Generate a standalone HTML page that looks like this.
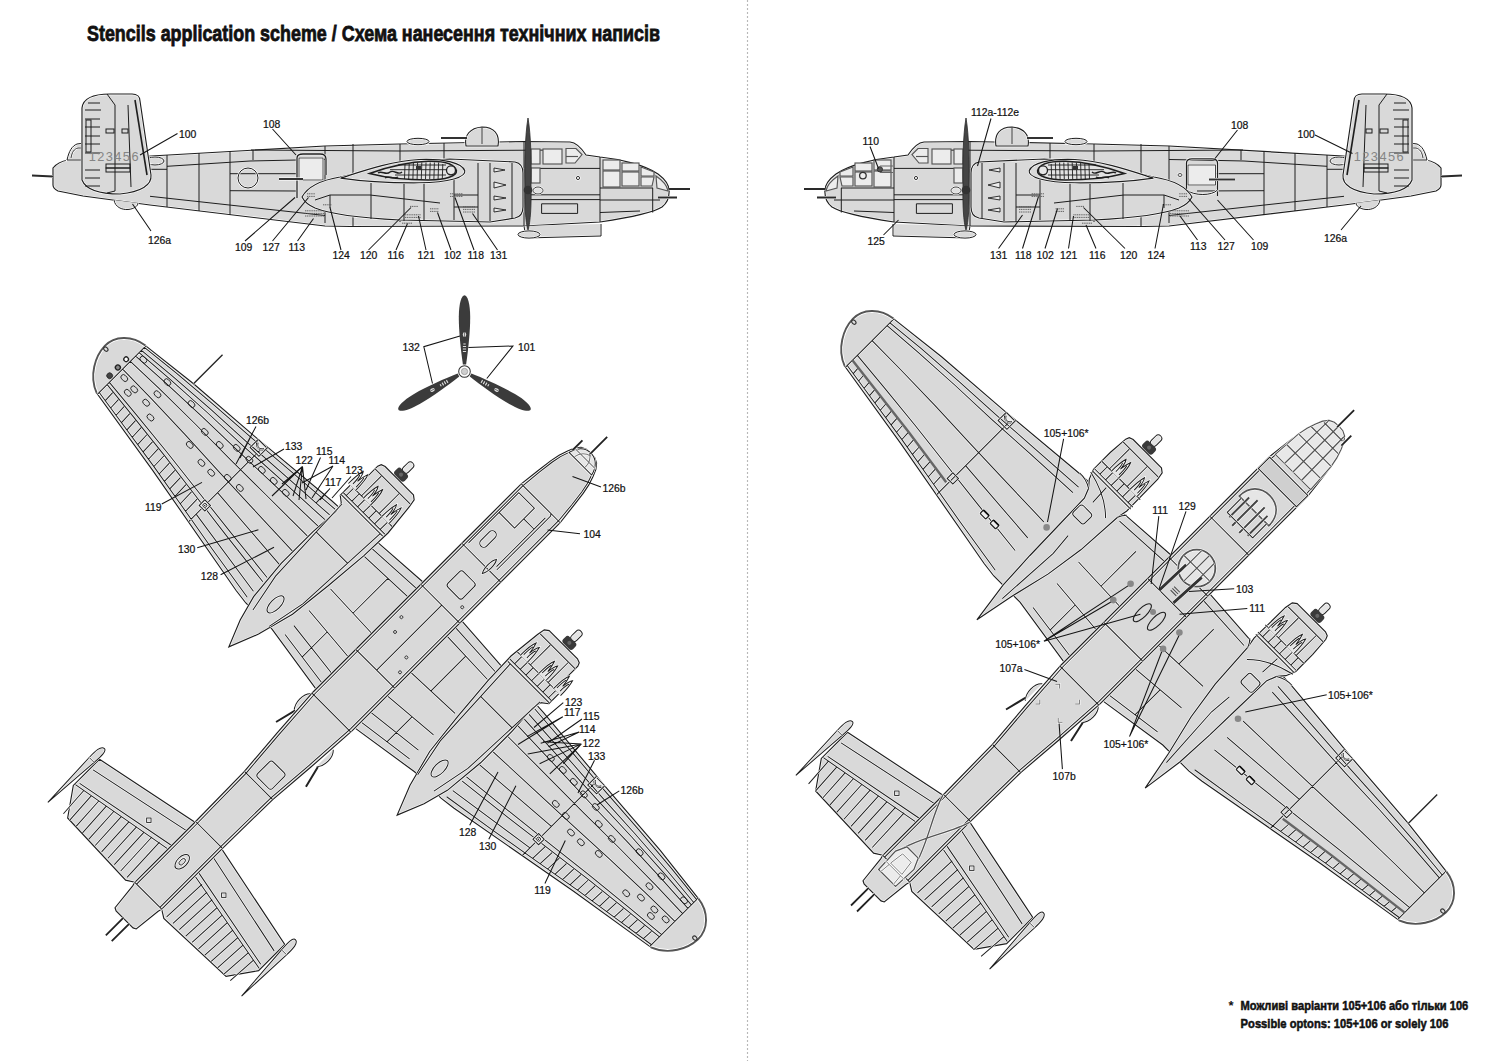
<!DOCTYPE html>
<html><head><meta charset="utf-8"><style>
html,body{margin:0;padding:0;background:#fff;}
body{width:1500px;height:1061px;overflow:hidden;position:relative;}
svg{position:absolute;left:0;top:0;}
.lbl text{font-family:"Liberation Sans",sans-serif;font-size:10.4px;fill:#111;stroke:#111;stroke-width:0.22px;}
.title{font-family:"Liberation Sans",sans-serif;font-weight:bold;}
</style></head><body>
<svg width="1500" height="1061" viewBox="0 0 1500 1061">
<defs>
<g id="sideA"><path d="M53,168 C57,163 62,161 68,160 L151,156 L325,146 L400,144 L524,141.5 L570,142 C576,142.5 582,149 586,155 L600,157 C620,159 645,165 658,174 C666,180 670,187 669,193 C669,198 667,203 662,207 C656,211 640,216 600,222 L524,226 L350,226.5 L325,226 L150,205 L83,196 L58,191 C54,189 53,187 53,185 Z" fill="#d9d9d9" stroke="none" stroke-width="1.15"/><path d="M53,168 C57,163 62,161 68,160 L151,156 L325,146 L400,144 L524,141.5 L570,142 C576,142.5 582,149 586,155 L600,157 C620,159 645,165 658,174 C666,180 670,187 669,193 C669,198 667,203 662,207 C656,211 640,216 600,222 L524,226 L350,226.5 L325,226 L150,205 L83,196 L58,191 C54,189 53,187 53,185 Z" fill="none" stroke="#fff" stroke-width="2.25"/><path d="M53,168 C57,163 62,161 68,160 L151,156 L325,146 L400,144 L524,141.5 L570,142 C576,142.5 582,149 586,155 L600,157 C620,159 645,165 658,174 C666,180 670,187 669,193 C669,198 667,203 662,207 C656,211 640,216 600,222 L524,226 L350,226.5 L325,226 L150,205 L83,196 L58,191 C54,189 53,187 53,185 Z" fill="none" stroke="#1e1e1e" stroke-width="1.15"/>
<path d="M67,160 C69,151 72,146 77,144 L84,143 L84,160 Z" fill="#d9d9d9" stroke="none" stroke-width="1"/><path d="M67,160 C69,151 72,146 77,144 L84,143 L84,160 Z" fill="none" stroke="#fff" stroke-width="2.10"/><path d="M67,160 C69,151 72,146 77,144 L84,143 L84,160 Z" fill="none" stroke="#1e1e1e" stroke-width="1"/>
<path d="M71,158 C72,152 74,149 78,148 L84,148" fill="none" stroke="#fff" stroke-width="2.00"/><path d="M71,158 C72,152 74,149 78,148 L84,148" fill="none" stroke="#1e1e1e" stroke-width="0.9"/>
<ellipse cx="155" cy="161" rx="9" ry="4" fill="#d9d9d9" stroke="none" stroke-width="1"/><ellipse cx="155" cy="161" rx="9" ry="4" fill="none" stroke="#fff" stroke-width="2.10"/><ellipse cx="155" cy="161" rx="9" ry="4" fill="none" stroke="#1e1e1e" stroke-width="1"/>
<g fill="none" stroke="#1e1e1e" stroke-width="1"><path d="M167,155 L167,207"/><path d="M199,153 L199,211"/><path d="M230,151 L230,215"/><path d="M253,150 L253,160"/><path d="M151,169.3 L167,169.3 M167,166.3 L250,161 L297,160 L325,159.5"/><path d="M150,196.3 L325,215.5"/><path d="M230,173.7 L297,173.7 M230,190.7 L297,191"/><path d="M325,146 L325,223"/><path d="M353,144 L353,226"/><path d="M400,144 L400,222"/><path d="M444,143 L444,160"/><path d="M251,150 L400,151 L560,150"/><path d="M524,141.5 L524,226"/><path d="M600,157 L600,222"/><path d="M531,168.4 L600,168.4"/><path d="M531,194.8 L600,194.8 M531,199.6 L600,199.6"/><path d="M600,188 L653,188 M652.7,188 L652.7,212.5 M600,212.5 L640,211"/><path d="M541.6,203.8 L577.6,203.8 L577.6,213.4 L541.6,213.4 Z"/><path d="M600,200 L660,200"/></g></g>
<g id="sideB"><path d="M82,180 L82,108 C83,99 93,94 110,94 L132,94 C137,94 140,97 140,101 L151,175 C152,185 141,192 120,194 C100,194 86,190 82,180 Z" fill="#d9d9d9" stroke="none" stroke-width="1.15"/><path d="M82,180 L82,108 C83,99 93,94 110,94 L132,94 C137,94 140,97 140,101 L151,175 C152,185 141,192 120,194 C100,194 86,190 82,180 Z" fill="none" stroke="#fff" stroke-width="2.25"/><path d="M82,180 L82,108 C83,99 93,94 110,94 L132,94 C137,94 140,97 140,101 L151,175 C152,185 141,192 120,194 C100,194 86,190 82,180 Z" fill="none" stroke="#1e1e1e" stroke-width="1.15"/>
<g fill="none" stroke="#1e1e1e" stroke-width="1"><path d="M107,94 L115,105 L115,191 L107,193"/><path d="M128,105 L131,187"/><path d="M135,100 L147,175" stroke-width="1.6"/><path d="M88,103 L100,103 M85,110 L101,110 M85,119 L100,119 M85,127 L100,127 M85,136 L100,136 M85,144 L100,144 M85,153 L100,153 M85,170 L100,170 M85,178 L100,178 M85,186 L100,186"/><rect x="86" y="120" width="5" height="32"/><rect x="106" y="129" width="8" height="4"/><rect x="122" y="129" width="6" height="4"/><rect x="106" y="164" width="24" height="4"/><rect x="106" y="168" width="24" height="4"/></g>
<path d="M114,200 C115,207 122,210 128,209.5 C134,209 138,206 138,203" fill="#d9d9d9" stroke="none" stroke-width="1"/><path d="M114,200 C115,207 122,210 128,209.5 C134,209 138,206 138,203" fill="none" stroke="#fff" stroke-width="2.10"/><path d="M114,200 C115,207 122,210 128,209.5 C134,209 138,206 138,203" fill="none" stroke="#1e1e1e" stroke-width="1"/>
<ellipse cx="418" cy="141.5" rx="11" ry="3.2" fill="#d9d9d9" stroke="none" stroke-width="1"/><ellipse cx="418" cy="141.5" rx="11" ry="3.2" fill="none" stroke="#fff" stroke-width="2.10"/><ellipse cx="418" cy="141.5" rx="11" ry="3.2" fill="none" stroke="#1e1e1e" stroke-width="1"/>
<path d="M466,146 C464,135 470,128 482,127 C494,127 500,134 498,146 Z" fill="#d9d9d9" stroke="none" stroke-width="1.15"/><path d="M466,146 C464,135 470,128 482,127 C494,127 500,134 498,146 Z" fill="none" stroke="#fff" stroke-width="2.25"/><path d="M466,146 C464,135 470,128 482,127 C494,127 500,134 498,146 Z" fill="none" stroke="#1e1e1e" stroke-width="1.15"/>
<path d="M482,128 L482,144" stroke="#fff" stroke-width="2.10" fill="none"/><path d="M482,128 L482,144" stroke="#1e1e1e" stroke-width="1"/>
<path d="M441,138 L467,138" stroke="#fff" stroke-width="3.10" fill="none"/><path d="M441,138 L467,138" stroke="#333" stroke-width="2"/>
<path d="M302,197 C308,186 322,180 340,177 C370,170 400,162 450,159 L515,162 C520,163 523,167 523,173 L523,207 C523,213 520,217 515,218 L490,222 L400,220 C360,218 330,214 315,208 C308,205 304,201 302,197 Z" fill="#d9d9d9" stroke="none" stroke-width="1.15"/><path d="M302,197 C308,186 322,180 340,177 C370,170 400,162 450,159 L515,162 C520,163 523,167 523,173 L523,207 C523,213 520,217 515,218 L490,222 L400,220 C360,218 330,214 315,208 C308,205 304,201 302,197 Z" fill="none" stroke="#fff" stroke-width="2.25"/><path d="M302,197 C308,186 322,180 340,177 C370,170 400,162 450,159 L515,162 C520,163 523,167 523,173 L523,207 C523,213 520,217 515,218 L490,222 L400,220 C360,218 330,214 315,208 C308,205 304,201 302,197 Z" fill="none" stroke="#1e1e1e" stroke-width="1.15"/>
<g fill="none" stroke="#1e1e1e" stroke-width="1"><path d="M371,183 L371,219"/><path d="M404,181 L404,221"/><path d="M424,181 L424,221"/><path d="M454,170 L454,220"/><path d="M478,163 L478,222"/><path d="M490,163 L490,221"/><path d="M512,163 L512,218"/><path d="M454,195 L478,195 M454,207 L478,207"/><path d="M315,200 L330,195 L370,195 L440,203"/><path d="M330,195 L330,208"/></g>
<g fill="#ececec" stroke="#1e1e1e" stroke-width="0.9"><path d="M494,168 L505,170 L494,172 Z"/><path d="M494,182 L506,185 L494,188 Z"/><path d="M494,196 L506,198 L494,200 Z"/><path d="M494,208 L506,210 L494,212 Z"/></g>
<path d="M340.6,178.1 C360,172 390,161 419,159.5 C445,158.5 462,163 464.8,170.7 C466,177 450,182.5 419,182.8 C390,183 360,181 340.6,178.1 Z" fill="#d9d9d9" stroke="none" stroke-width="1.15"/><path d="M340.6,178.1 C360,172 390,161 419,159.5 C445,158.5 462,163 464.8,170.7 C466,177 450,182.5 419,182.8 C390,183 360,181 340.6,178.1 Z" fill="none" stroke="#fff" stroke-width="2.25"/><path d="M340.6,178.1 C360,172 390,161 419,159.5 C445,158.5 462,163 464.8,170.7 C466,177 450,182.5 419,182.8 C390,183 360,181 340.6,178.1 Z" fill="none" stroke="#1e1e1e" stroke-width="1.15"/>
<path d="M369.5,173.5 C385,168 405,162 428.4,161.3 C446,161 455,165 456.4,170.7 C457,176 446,180 428.4,180 C405,180 385,177.5 369.5,173.5 Z" fill="#e2e2e2" stroke="#1e1e1e" stroke-width="1.6" class="nohalo"/>
<path d="M405.0,164.0 L404.5,179 M409.2,164.0 L408.7,179 M413.4,162.5 L412.9,179 M417.6,162.5 L417.1,179 M421.8,162.5 L421.3,179 M426.0,162.5 L425.5,179 M430.2,162.5 L429.7,179 M434.4,162.5 L433.9,179 M438.6,162.5 L438.1,179 M442.8,164.0 L442.3,179 M390,169.7 L446,169.7 M395,175 L446,175 M398,165 L446,165" stroke="#1e1e1e" stroke-width="0.9" fill="none" class="nohalo"/>
<path d="M378,173 C382,170 386,176 390,172 C394,169 398,176 402,172 M385,178 C389,175 393,180 398,177" stroke="#1e1e1e" stroke-width="1.4" fill="none" class="nohalo"/>
<rect x="416" y="166" width="5" height="4" fill="#333"/>
<circle cx="451" cy="170.3" r="4.5" fill="#e6e6e6" stroke="#1e1e1e" stroke-width="1.3" class="nohalo"/>
<g fill="#ececec" stroke="#555" stroke-width="1.15"><rect x="531" y="149" width="9" height="15"/><rect x="543" y="149" width="19" height="15"/><path d="M566,148.5 L576,148.5 L582,154.5 L575,163 L566,163 Z"/><path d="M566,156.5 L578,156.5"/><rect x="531" y="168" width="9" height="15"/><rect x="603" y="160" width="17" height="10"/><rect x="603" y="171" width="17" height="16"/><rect x="622" y="163" width="17" height="8"/><rect x="622" y="172" width="17" height="14"/><path d="M641,167 L654,172 L654,176 L641,176 Z"/><path d="M641,177 L654,177 L652,186 L641,186 Z"/><path d="M656,176 C662,180 667,185 668,191 L657,188 Z"/></g>
<circle cx="578" cy="178" r="1.6" fill="none" stroke="#fff" stroke-width="2.00"/><circle cx="578" cy="178" r="1.6" fill="none" stroke="#1e1e1e" stroke-width="0.9"/>
<path d="M524,226 L526,238 L601,236 L601,224" fill="#d9d9d9" stroke="none" stroke-width="1"/><path d="M524,226 L526,238 L601,236 L601,224" fill="none" stroke="#fff" stroke-width="2.10"/><path d="M524,226 L526,238 L601,236 L601,224" fill="none" stroke="#1e1e1e" stroke-width="1"/>
<ellipse cx="529" cy="234.5" rx="11" ry="3.6" fill="#d9d9d9" stroke="none" stroke-width="1"/><ellipse cx="529" cy="234.5" rx="11" ry="3.6" fill="none" stroke="#fff" stroke-width="2.10"/><ellipse cx="529" cy="234.5" rx="11" ry="3.6" fill="none" stroke="#1e1e1e" stroke-width="1"/>
<path d="M669,189 L690,189 M658,197.5 L677,197.5 M32,175.5 L53,176.5" stroke="#fff" stroke-width="2.90" fill="none"/><path d="M669,189 L690,189 M658,197.5 L677,197.5 M32,175.5 L53,176.5" stroke="#2a2a2a" stroke-width="1.8"/>
<path d="M528,118 C531,135 531.5,165 531,185 C531.5,205 530.5,222 528,230 C525.5,222 524.5,205 525,185 C524.5,165 525,135 528,118 Z" fill="#454545" class="nohalo" stroke="#2a2a2a" stroke-width="0.8"/>
<ellipse cx="538" cy="190.5" rx="5" ry="3.5" fill="#e0e0e0" stroke="none" stroke-width="0.9"/><ellipse cx="538" cy="190.5" rx="5" ry="3.5" fill="none" stroke="#fff" stroke-width="2.00"/><ellipse cx="538" cy="190.5" rx="5" ry="3.5" fill="none" stroke="#2a2a2a" stroke-width="0.9"/>
<circle cx="528" cy="190" r="4.3" fill="#333"/>
<path d="M307,193.8 L315,193.8 M307,196.4 L315,196.4 M305,210.8 L324,210.8 M305,213.4 L324,213.4 M305,216.0 L324,216.0 M323,204.8 L332,204.8 M410,206.4 L418,206.4 M405,214.8 L421,214.8 M405,217.4 L421,217.4 M402,223.2 L412,223.2 M430,208.8 L439,208.8 M430,211.4 L439,211.4 M450,193.8 L463,193.8 M450,196.4 L463,196.4 M463,206.8 L475,206.8 M463,209.4 L475,209.4 M463,212.0 L475,212.0" stroke="#555" stroke-width="0.9" stroke-dasharray="1.2,0.6" fill="none" class="nohalo"/></g>
<g id="plan"><path d="M0.0,-60.0 L28.0,-60.0 L88.0,-56.0 L150.0,-53.0 L250.0,-44.0 L330.0,-38.0 L391.0,-31.0 C408.0,-29.0 420.0,-16.0 419.5,-2.0 C419.0,12.0 410.0,30.0 392.0,37.0 L298.0,52.0 L154.0,78.0 L138.0,80.0 L101.0,80.0 L29.0,91.0 L0.0,91.0 Z" fill="#d9d9d9" stroke="none" stroke-width="1.15"/><path d="M0.0,-60.0 L28.0,-60.0 L88.0,-56.0 L150.0,-53.0 L250.0,-44.0 L330.0,-38.0 L391.0,-31.0 C408.0,-29.0 420.0,-16.0 419.5,-2.0 C419.0,12.0 410.0,30.0 392.0,37.0 L298.0,52.0 L154.0,78.0 L138.0,80.0 L101.0,80.0 L29.0,91.0 L0.0,91.0 Z" fill="none" stroke="#fff" stroke-width="2.25"/><path d="M0.0,-60.0 L28.0,-60.0 L88.0,-56.0 L150.0,-53.0 L250.0,-44.0 L330.0,-38.0 L391.0,-31.0 C408.0,-29.0 420.0,-16.0 419.5,-2.0 C419.0,12.0 410.0,30.0 392.0,37.0 L298.0,52.0 L154.0,78.0 L138.0,80.0 L101.0,80.0 L29.0,91.0 L0.0,91.0 Z" fill="none" stroke="#1e1e1e" stroke-width="1.15"/>
<path d="M0.0,-60.0 L-28.0,-60.0 L-88.0,-56.0 L-150.0,-53.0 L-250.0,-44.0 L-330.0,-38.0 L-391.0,-31.0 C-408.0,-29.0 -420.0,-16.0 -419.5,-2.0 C-419.0,12.0 -410.0,30.0 -392.0,37.0 L-298.0,52.0 L-154.0,78.0 L-138.0,80.0 L-101.0,80.0 L-29.0,91.0 L0.0,91.0 Z" fill="#d9d9d9" stroke="none" stroke-width="1.15"/><path d="M0.0,-60.0 L-28.0,-60.0 L-88.0,-56.0 L-150.0,-53.0 L-250.0,-44.0 L-330.0,-38.0 L-391.0,-31.0 C-408.0,-29.0 -420.0,-16.0 -419.5,-2.0 C-419.0,12.0 -410.0,30.0 -392.0,37.0 L-298.0,52.0 L-154.0,78.0 L-138.0,80.0 L-101.0,80.0 L-29.0,91.0 L0.0,91.0 Z" fill="none" stroke="#fff" stroke-width="2.25"/><path d="M0.0,-60.0 L-28.0,-60.0 L-88.0,-56.0 L-150.0,-53.0 L-250.0,-44.0 L-330.0,-38.0 L-391.0,-31.0 C-408.0,-29.0 -420.0,-16.0 -419.5,-2.0 C-419.0,12.0 -410.0,30.0 -392.0,37.0 L-298.0,52.0 L-154.0,78.0 L-138.0,80.0 L-101.0,80.0 L-29.0,91.0 L0.0,91.0 Z" fill="none" stroke="#1e1e1e" stroke-width="1.15"/>
<path d="M0.0,271.0 L19.0,271.0 L131.0,294.0 L131.0,331.0 L112.0,358.0 L27.0,361.0 L19.0,356.0 L0.0,356.0 L0.0,356.0 L-19.0,356.0 L-27.0,361.0 L-112.0,358.0 L-131.0,331.0 L-131.0,294.0 L-19.0,271.0 L0.0,271.0 Z" fill="#d9d9d9" stroke="none" stroke-width="1.15"/><path d="M0.0,271.0 L19.0,271.0 L131.0,294.0 L131.0,331.0 L112.0,358.0 L27.0,361.0 L19.0,356.0 L0.0,356.0 L0.0,356.0 L-19.0,356.0 L-27.0,361.0 L-112.0,358.0 L-131.0,331.0 L-131.0,294.0 L-19.0,271.0 L0.0,271.0 Z" fill="none" stroke="#fff" stroke-width="2.25"/><path d="M0.0,271.0 L19.0,271.0 L131.0,294.0 L131.0,331.0 L112.0,358.0 L27.0,361.0 L19.0,356.0 L0.0,356.0 L0.0,356.0 L-19.0,356.0 L-27.0,361.0 L-112.0,358.0 L-131.0,331.0 L-131.0,294.0 L-19.0,271.0 L0.0,271.0 Z" fill="none" stroke="#1e1e1e" stroke-width="1.15"/>
<path d="M141.0,-49.4 L200.0,-45.0 L250.0,-40.9 L300.0,-37.5 L350.0,-33.3 L390.5,-29.0 M141.0,-41.5 L200.0,-37.9 L250.0,-34.6 L300.0,-32.0 L350.0,-28.6 L390.5,-24.9 M141.0,-34.8 L200.0,-32.0 L250.0,-29.3 L300.0,-27.4 L350.0,-24.6 L390.5,-21.5 M141.0,-25.5 L200.0,-23.7 L250.0,-22.0 L300.0,-20.9 L350.0,-19.0 L390.5,-16.7 M141.0,-10.9 L200.0,-10.7 L250.0,-10.5 L300.0,-10.8 L350.0,-10.3 L390.5,-9.2 M141.0,10.4 L200.0,8.2 L250.0,6.2 L300.0,3.9 L350.0,2.4 L390.5,1.7 M141.0,47.0 L200.0,40.7 L250.0,35.0 L300.0,29.2 L350.0,24.2 L390.5,20.5 M141.0,53.0 L200.0,46.1 L250.0,39.7 L300.0,33.3 L350.0,27.8 L390.5,23.6 M141.0,75.0 L200.0,65.6 L250.0,57.0 L300.0,48.5 L350.0,40.9 L390.5,34.8 M390.5,-31.1 L390.5,37.2 M236.0,-45.3 L236.0,63.2 M246.0,41.0 L245.5,57.8 M255.0,39.9 L254.5,56.2 M264.0,38.7 L263.5,54.7 M273.0,37.6 L272.5,53.1 M282.0,36.4 L281.5,51.6 M291.0,35.2 L290.5,50.1 M300.0,34.1 L299.5,48.5 M309.0,33.1 L308.5,47.2 M318.0,32.1 L317.5,45.8 M327.0,31.1 L326.5,44.5 M336.0,30.1 L335.5,43.1 M345.0,29.1 L344.5,41.7 M354.0,28.2 L353.5,40.4 M363.0,27.3 L362.5,39.0 M372.0,26.3 L371.5,37.7 M381.0,25.4 L380.5,36.3 M141.0,29.1 L236.0,22.0 M141.0,66.3 L236.0,52.3 M27.0,-50.9 L88.0,-47.7 M27.0,-38.9 L88.0,-36.7 M27.0,12.5 L88.0,10.2 M27.0,45.7 L88.0,40.6 M27.0,69.1 L88.0,62.0 M27.0,82.8 L88.0,74.5 M55.0,-37.9 L55.0,11.5 M60.0,43.0 L60.0,78.5 M-141.0,-49.4 L-200.0,-45.0 L-250.0,-40.9 L-300.0,-37.5 L-350.0,-33.3 L-390.5,-29.0 M-141.0,-41.5 L-200.0,-37.9 L-250.0,-34.6 L-300.0,-32.0 L-350.0,-28.6 L-390.5,-24.9 M-141.0,-34.8 L-200.0,-32.0 L-250.0,-29.3 L-300.0,-27.4 L-350.0,-24.6 L-390.5,-21.5 M-141.0,-25.5 L-200.0,-23.7 L-250.0,-22.0 L-300.0,-20.9 L-350.0,-19.0 L-390.5,-16.7 M-141.0,-10.9 L-200.0,-10.7 L-250.0,-10.5 L-300.0,-10.8 L-350.0,-10.3 L-390.5,-9.2 M-141.0,10.4 L-200.0,8.2 L-250.0,6.2 L-300.0,3.9 L-350.0,2.4 L-390.5,1.7 M-141.0,47.0 L-200.0,40.7 L-250.0,35.0 L-300.0,29.2 L-350.0,24.2 L-390.5,20.5 M-141.0,53.0 L-200.0,46.1 L-250.0,39.7 L-300.0,33.3 L-350.0,27.8 L-390.5,23.6 M-141.0,75.0 L-200.0,65.6 L-250.0,57.0 L-300.0,48.5 L-350.0,40.9 L-390.5,34.8 M-390.5,-31.1 L-390.5,37.2 M-236.0,-45.3 L-236.0,63.2 M-246.0,41.0 L-245.5,57.8 M-255.0,39.9 L-254.5,56.2 M-264.0,38.7 L-263.5,54.7 M-273.0,37.6 L-272.5,53.1 M-282.0,36.4 L-281.5,51.6 M-291.0,35.2 L-290.5,50.1 M-300.0,34.1 L-299.5,48.5 M-309.0,33.1 L-308.5,47.2 M-318.0,32.1 L-317.5,45.8 M-327.0,31.1 L-326.5,44.5 M-336.0,30.1 L-335.5,43.1 M-345.0,29.1 L-344.5,41.7 M-354.0,28.2 L-353.5,40.4 M-363.0,27.3 L-362.5,39.0 M-372.0,26.3 L-371.5,37.7 M-381.0,25.4 L-380.5,36.3 M-141.0,29.1 L-236.0,22.0 M-141.0,66.3 L-236.0,52.3 M-27.0,-50.9 L-88.0,-47.7 M-27.0,-38.9 L-88.0,-36.7 M-27.0,12.5 L-88.0,10.2 M-27.0,45.7 L-88.0,40.6 M-27.0,69.1 L-88.0,62.0 M-27.0,82.8 L-88.0,74.5 M-55.0,-37.9 L-55.0,11.5 M-60.0,43.0 L-60.0,78.5" fill="none" stroke="#fff" stroke-width="2.10"/><path d="M141.0,-49.4 L200.0,-45.0 L250.0,-40.9 L300.0,-37.5 L350.0,-33.3 L390.5,-29.0 M141.0,-41.5 L200.0,-37.9 L250.0,-34.6 L300.0,-32.0 L350.0,-28.6 L390.5,-24.9 M141.0,-34.8 L200.0,-32.0 L250.0,-29.3 L300.0,-27.4 L350.0,-24.6 L390.5,-21.5 M141.0,-25.5 L200.0,-23.7 L250.0,-22.0 L300.0,-20.9 L350.0,-19.0 L390.5,-16.7 M141.0,-10.9 L200.0,-10.7 L250.0,-10.5 L300.0,-10.8 L350.0,-10.3 L390.5,-9.2 M141.0,10.4 L200.0,8.2 L250.0,6.2 L300.0,3.9 L350.0,2.4 L390.5,1.7 M141.0,47.0 L200.0,40.7 L250.0,35.0 L300.0,29.2 L350.0,24.2 L390.5,20.5 M141.0,53.0 L200.0,46.1 L250.0,39.7 L300.0,33.3 L350.0,27.8 L390.5,23.6 M141.0,75.0 L200.0,65.6 L250.0,57.0 L300.0,48.5 L350.0,40.9 L390.5,34.8 M390.5,-31.1 L390.5,37.2 M236.0,-45.3 L236.0,63.2 M246.0,41.0 L245.5,57.8 M255.0,39.9 L254.5,56.2 M264.0,38.7 L263.5,54.7 M273.0,37.6 L272.5,53.1 M282.0,36.4 L281.5,51.6 M291.0,35.2 L290.5,50.1 M300.0,34.1 L299.5,48.5 M309.0,33.1 L308.5,47.2 M318.0,32.1 L317.5,45.8 M327.0,31.1 L326.5,44.5 M336.0,30.1 L335.5,43.1 M345.0,29.1 L344.5,41.7 M354.0,28.2 L353.5,40.4 M363.0,27.3 L362.5,39.0 M372.0,26.3 L371.5,37.7 M381.0,25.4 L380.5,36.3 M141.0,29.1 L236.0,22.0 M141.0,66.3 L236.0,52.3 M27.0,-50.9 L88.0,-47.7 M27.0,-38.9 L88.0,-36.7 M27.0,12.5 L88.0,10.2 M27.0,45.7 L88.0,40.6 M27.0,69.1 L88.0,62.0 M27.0,82.8 L88.0,74.5 M55.0,-37.9 L55.0,11.5 M60.0,43.0 L60.0,78.5 M-141.0,-49.4 L-200.0,-45.0 L-250.0,-40.9 L-300.0,-37.5 L-350.0,-33.3 L-390.5,-29.0 M-141.0,-41.5 L-200.0,-37.9 L-250.0,-34.6 L-300.0,-32.0 L-350.0,-28.6 L-390.5,-24.9 M-141.0,-34.8 L-200.0,-32.0 L-250.0,-29.3 L-300.0,-27.4 L-350.0,-24.6 L-390.5,-21.5 M-141.0,-25.5 L-200.0,-23.7 L-250.0,-22.0 L-300.0,-20.9 L-350.0,-19.0 L-390.5,-16.7 M-141.0,-10.9 L-200.0,-10.7 L-250.0,-10.5 L-300.0,-10.8 L-350.0,-10.3 L-390.5,-9.2 M-141.0,10.4 L-200.0,8.2 L-250.0,6.2 L-300.0,3.9 L-350.0,2.4 L-390.5,1.7 M-141.0,47.0 L-200.0,40.7 L-250.0,35.0 L-300.0,29.2 L-350.0,24.2 L-390.5,20.5 M-141.0,53.0 L-200.0,46.1 L-250.0,39.7 L-300.0,33.3 L-350.0,27.8 L-390.5,23.6 M-141.0,75.0 L-200.0,65.6 L-250.0,57.0 L-300.0,48.5 L-350.0,40.9 L-390.5,34.8 M-390.5,-31.1 L-390.5,37.2 M-236.0,-45.3 L-236.0,63.2 M-246.0,41.0 L-245.5,57.8 M-255.0,39.9 L-254.5,56.2 M-264.0,38.7 L-263.5,54.7 M-273.0,37.6 L-272.5,53.1 M-282.0,36.4 L-281.5,51.6 M-291.0,35.2 L-290.5,50.1 M-300.0,34.1 L-299.5,48.5 M-309.0,33.1 L-308.5,47.2 M-318.0,32.1 L-317.5,45.8 M-327.0,31.1 L-326.5,44.5 M-336.0,30.1 L-335.5,43.1 M-345.0,29.1 L-344.5,41.7 M-354.0,28.2 L-353.5,40.4 M-363.0,27.3 L-362.5,39.0 M-372.0,26.3 L-371.5,37.7 M-381.0,25.4 L-380.5,36.3 M-141.0,29.1 L-236.0,22.0 M-141.0,66.3 L-236.0,52.3 M-27.0,-50.9 L-88.0,-47.7 M-27.0,-38.9 L-88.0,-36.7 M-27.0,12.5 L-88.0,10.2 M-27.0,45.7 L-88.0,40.6 M-27.0,69.1 L-88.0,62.0 M-27.0,82.8 L-88.0,74.5 M-55.0,-37.9 L-55.0,11.5 M-60.0,43.0 L-60.0,78.5" fill="none" stroke="#1e1e1e" stroke-width="1"/>
<g fill="none" stroke="#1e1e1e" stroke-width="0.9"><rect x="378.3" y="-22.1" width="7.6" height="5" rx="2.5" transform="rotate(-1 382.3 -19.7)"/><rect x="-386.3" y="-22.1" width="7.6" height="5" rx="2.5" transform="rotate(1 -382.3 -19.7)"/><rect x="345.4" y="-23.1" width="7.6" height="5" rx="2.5" transform="rotate(-1 349.4 -20.7)"/><rect x="-353.4" y="-23.1" width="7.6" height="5" rx="2.5" transform="rotate(1 -349.4 -20.7)"/><rect x="312.9" y="-24.7" width="7.6" height="5" rx="2.5" transform="rotate(-1 316.9 -22.3)"/><rect x="-320.9" y="-24.7" width="7.6" height="5" rx="2.5" transform="rotate(1 -316.9 -22.3)"/><rect x="378.8" y="4.4" width="7.6" height="5" rx="2.5" transform="rotate(-1 382.8 6.8)"/><rect x="-386.8" y="4.4" width="7.6" height="5" rx="2.5" transform="rotate(1 -382.8 6.8)"/><rect x="363.8" y="5.4" width="7.6" height="5" rx="2.5" transform="rotate(-1 367.8 7.8)"/><rect x="-371.8" y="5.4" width="7.6" height="5" rx="2.5" transform="rotate(1 -367.8 7.8)"/><rect x="345.9" y="6.4" width="7.6" height="5" rx="2.5" transform="rotate(-1 349.9 8.8)"/><rect x="-353.9" y="6.4" width="7.6" height="5" rx="2.5" transform="rotate(1 -349.9 8.8)"/><rect x="365.9" y="12.4" width="7.6" height="5" rx="2.5" transform="rotate(-1 369.9 14.8)"/><rect x="-373.9" y="12.4" width="7.6" height="5" rx="2.5" transform="rotate(1 -369.9 14.8)"/><rect x="343.9" y="-7.6" width="7.6" height="5" rx="2.5" transform="rotate(-1 347.9 -5.2)"/><rect x="-351.9" y="-7.6" width="7.6" height="5" rx="2.5" transform="rotate(1 -347.9 -5.2)"/><rect x="332.4" y="13.8" width="7.6" height="5" rx="2.5" transform="rotate(-1 336.4 16.2)"/><rect x="-340.4" y="13.8" width="7.6" height="5" rx="2.5" transform="rotate(1 -336.4 16.2)"/><rect x="264.3" y="9.8" width="7.6" height="5" rx="2.5" transform="rotate(-1 268.3 12.2)"/><rect x="-272.3" y="9.8" width="7.6" height="5" rx="2.5" transform="rotate(1 -268.3 12.2)"/><rect x="250.4" y="9.9" width="7.6" height="5" rx="2.5" transform="rotate(-1 254.4 12.3)"/><rect x="-258.4" y="9.9" width="7.6" height="5" rx="2.5" transform="rotate(1 -254.4 12.3)"/><rect x="249.9" y="-25.7" width="7.6" height="5" rx="2.5" transform="rotate(-1 253.9 -23.3)"/><rect x="-257.9" y="-25.7" width="7.6" height="5" rx="2.5" transform="rotate(1 -253.9 -23.3)"/><rect x="232.5" y="-26.2" width="7.6" height="5" rx="2.5" transform="rotate(-1 236.5 -23.8)"/><rect x="-240.5" y="-26.2" width="7.6" height="5" rx="2.5" transform="rotate(1 -236.5 -23.8)"/><rect x="235.0" y="1.8" width="7.6" height="5" rx="2.5" transform="rotate(-1 239.0 4.2)"/><rect x="-243.0" y="1.8" width="7.6" height="5" rx="2.5" transform="rotate(1 -239.0 4.2)"/><rect x="219.4" y="0.4" width="7.6" height="5" rx="2.5" transform="rotate(-1 223.4 2.8)"/><rect x="-227.4" y="0.4" width="7.6" height="5" rx="2.5" transform="rotate(1 -223.4 2.8)"/><rect x="216.6" y="-27.9" width="7.6" height="5" rx="2.5" transform="rotate(-1 220.6 -25.5)"/><rect x="-224.6" y="-27.9" width="7.6" height="5" rx="2.5" transform="rotate(1 -220.6 -25.5)"/><rect x="200.4" y="-28.6" width="7.6" height="5" rx="2.5" transform="rotate(-1 204.4 -26.2)"/><rect x="-208.4" y="-28.6" width="7.6" height="5" rx="2.5" transform="rotate(1 -204.4 -26.2)"/><rect x="183.4" y="-28.6" width="7.6" height="5" rx="2.5" transform="rotate(-1 187.4 -26.2)"/><rect x="-191.4" y="-28.6" width="7.6" height="5" rx="2.5" transform="rotate(1 -187.4 -26.2)"/><rect x="285.2" y="5.4" width="7.6" height="5" rx="2.5" transform="rotate(-1 289.2 7.8)"/><rect x="-293.2" y="5.4" width="7.6" height="5" rx="2.5" transform="rotate(1 -289.2 7.8)"/><rect x="283.8" y="-14.4" width="7.6" height="5" rx="2.5" transform="rotate(-1 287.8 -12.0)"/><rect x="-291.8" y="-14.4" width="7.6" height="5" rx="2.5" transform="rotate(1 -287.8 -12.0)"/><rect x="264.0" y="-15.8" width="7.6" height="5" rx="2.5" transform="rotate(-1 268.0 -13.4)"/><rect x="-272.0" y="-15.8" width="7.6" height="5" rx="2.5" transform="rotate(1 -268.0 -13.4)"/></g>
<path d="M-330,-38 L-330,-79" stroke="#fff" stroke-width="2.40" fill="none"/><path d="M-330,-38 L-330,-79" stroke="#222" stroke-width="1.3"/>
<path d="M391.0,-31.0 C408.0,-29.0 420.0,-16.0 419.5,-2.0 C419.0,12.0 410.0,30.0 392.0,37.0" fill="none" stroke="#fff" stroke-width="3.6"/>
<path d="M391.0,-31.0 C408.0,-29.0 420.0,-16.0 419.5,-2.0 C419.0,12.0 410.0,30.0 392.0,37.0" fill="none" stroke="#fff" stroke-width="3.00"/><path d="M391.0,-31.0 C408.0,-29.0 420.0,-16.0 419.5,-2.0 C419.0,12.0 410.0,30.0 392.0,37.0" fill="none" stroke="#555" stroke-width="1.9"/>
<ellipse cx="416.5" cy="-0.5" rx="2.4" ry="1.8" fill="#ddd" stroke="#333" stroke-width="1.1" class="nohalo"/>
<path d="M-391.0,-31.0 C-408.0,-29.0 -420.0,-16.0 -419.5,-2.0 C-419.0,12.0 -410.0,30.0 -392.0,37.0" fill="none" stroke="#fff" stroke-width="3.6"/>
<path d="M-391.0,-31.0 C-408.0,-29.0 -420.0,-16.0 -419.5,-2.0 C-419.0,12.0 -410.0,30.0 -392.0,37.0" fill="none" stroke="#fff" stroke-width="3.00"/><path d="M-391.0,-31.0 C-408.0,-29.0 -420.0,-16.0 -419.5,-2.0 C-419.0,12.0 -410.0,30.0 -392.0,37.0" fill="none" stroke="#555" stroke-width="1.9"/>
<ellipse cx="-416.5" cy="-0.5" rx="2.4" ry="1.8" fill="#ddd" stroke="#333" stroke-width="1.1" class="nohalo"/>
<circle cx="-395" cy="15.6" r="2.9" fill="#444" stroke="#222" stroke-width="0.8" class="nohalo"/>
<circle cx="-395" cy="4" r="2.5" fill="#888" stroke="#222" stroke-width="1.3" class="nohalo"/>
<circle cx="-395" cy="-7.7" r="2.3" fill="#fff" stroke="#222" stroke-width="1.3" class="nohalo"/>
<path d="M232.6,-44.5 C232.6,-36.0 244.6,-36.0 244.6,-44.5 Z" fill="#ececec" stroke="none" stroke-width="1"/><path d="M232.6,-44.5 C232.6,-36.0 244.6,-36.0 244.6,-44.5 Z" fill="none" stroke="#fff" stroke-width="2.10"/><path d="M232.6,-44.5 C232.6,-36.0 244.6,-36.0 244.6,-44.5 Z" fill="none" stroke="#1e1e1e" stroke-width="1"/>
<path d="M234.6,-42.0 C236.6,-38.0 240.6,-38.0 242.6,-42.0" fill="none" stroke="#fff" stroke-width="2.00"/><path d="M234.6,-42.0 C236.6,-38.0 240.6,-38.0 242.6,-42.0" fill="none" stroke="#1e1e1e" stroke-width="0.9"/>
<path d="M232.5,-45.575 L232.5,-33.0 L245,-33.0 L245,-44.5" fill="none" stroke="#fff" stroke-width="2.10"/><path d="M232.5,-45.575 L232.5,-33.0 L245,-33.0 L245,-44.5" fill="none" stroke="#1e1e1e" stroke-width="1"/>
<rect x="232" y="36" width="8" height="8" fill="none" stroke="#fff" stroke-width="2.10"/><rect x="232" y="36" width="8" height="8" fill="none" stroke="#1e1e1e" stroke-width="1"/>
<circle cx="236" cy="40" r="2" fill="none" stroke="#fff" stroke-width="2.00"/><circle cx="236" cy="40" r="2" fill="none" stroke="#1e1e1e" stroke-width="0.9"/>
<path d="M-232.6,-44.5 C-232.6,-36.0 -244.6,-36.0 -244.6,-44.5 Z" fill="#ececec" stroke="none" stroke-width="1"/><path d="M-232.6,-44.5 C-232.6,-36.0 -244.6,-36.0 -244.6,-44.5 Z" fill="none" stroke="#fff" stroke-width="2.10"/><path d="M-232.6,-44.5 C-232.6,-36.0 -244.6,-36.0 -244.6,-44.5 Z" fill="none" stroke="#1e1e1e" stroke-width="1"/>
<path d="M-234.6,-42.0 C-236.6,-38.0 -240.6,-38.0 -242.6,-42.0" fill="none" stroke="#fff" stroke-width="2.00"/><path d="M-234.6,-42.0 C-236.6,-38.0 -240.6,-38.0 -242.6,-42.0" fill="none" stroke="#1e1e1e" stroke-width="0.9"/>
<path d="M-232.5,-45.575 L-232.5,-33.0 L-245,-33.0 L-245,-44.5" fill="none" stroke="#fff" stroke-width="2.10"/><path d="M-232.5,-45.575 L-232.5,-33.0 L-245,-33.0 L-245,-44.5" fill="none" stroke="#1e1e1e" stroke-width="1"/>
<rect x="-240" y="36" width="8" height="8" fill="none" stroke="#fff" stroke-width="2.10"/><rect x="-240" y="36" width="8" height="8" fill="none" stroke="#1e1e1e" stroke-width="1"/>
<circle cx="-236" cy="40" r="2" fill="none" stroke="#fff" stroke-width="2.00"/><circle cx="-236" cy="40" r="2" fill="none" stroke="#1e1e1e" stroke-width="0.9"/>
<path d="M128.0,306.0 L19.0,283.0 M128.0,325.0 L19.0,304.0 M130.0,329.0 L19.0,309.0 M30.0,310.1 L28.0,358.0 M39.0,311.9 L37.0,358.0 M48.0,313.6 L46.0,358.0 M57.0,315.3 L55.0,358.0 M66.0,317.1 L64.0,358.0 M75.0,318.8 L73.0,358.0 M84.0,320.5 L82.0,358.0 M93.0,322.3 L91.0,358.0 M102.0,324.0 L100.0,358.0 M111.0,325.7 L109.0,358.0 M120.0,327.5 L118.0,358.0 M-128.0,306.0 L-19.0,283.0 M-128.0,325.0 L-19.0,304.0 M-130.0,329.0 L-19.0,309.0 M-30.0,310.1 L-28.0,358.0 M-39.0,311.9 L-37.0,358.0 M-48.0,313.6 L-46.0,358.0 M-57.0,315.3 L-55.0,358.0 M-66.0,317.1 L-64.0,358.0 M-75.0,318.8 L-73.0,358.0 M-84.0,320.5 L-82.0,358.0 M-93.0,322.3 L-91.0,358.0 M-102.0,324.0 L-100.0,358.0 M-111.0,325.7 L-109.0,358.0 M-120.0,327.5 L-118.0,358.0" fill="none" stroke="#fff" stroke-width="2.10"/><path d="M128.0,306.0 L19.0,283.0 M128.0,325.0 L19.0,304.0 M130.0,329.0 L19.0,309.0 M30.0,310.1 L28.0,358.0 M39.0,311.9 L37.0,358.0 M48.0,313.6 L46.0,358.0 M57.0,315.3 L55.0,358.0 M66.0,317.1 L64.0,358.0 M75.0,318.8 L73.0,358.0 M84.0,320.5 L82.0,358.0 M93.0,322.3 L91.0,358.0 M102.0,324.0 L100.0,358.0 M111.0,325.7 L109.0,358.0 M120.0,327.5 L118.0,358.0 M-128.0,306.0 L-19.0,283.0 M-128.0,325.0 L-19.0,304.0 M-130.0,329.0 L-19.0,309.0 M-30.0,310.1 L-28.0,358.0 M-39.0,311.9 L-37.0,358.0 M-48.0,313.6 L-46.0,358.0 M-57.0,315.3 L-55.0,358.0 M-66.0,317.1 L-64.0,358.0 M-75.0,318.8 L-73.0,358.0 M-84.0,320.5 L-82.0,358.0 M-93.0,322.3 L-91.0,358.0 M-102.0,324.0 L-100.0,358.0 M-111.0,325.7 L-109.0,358.0 M-120.0,327.5 L-118.0,358.0" fill="none" stroke="#1e1e1e" stroke-width="1"/>
<rect x="50.8" y="300" width="4.4" height="4.4" transform="rotate(45 53 302.2)" fill="none" stroke="#fff" stroke-width="2.00"/><rect x="50.8" y="300" width="4.4" height="4.4" transform="rotate(45 53 302.2)" fill="none" stroke="#1e1e1e" stroke-width="0.9"/>
<rect x="-55.2" y="300" width="4.4" height="4.4" transform="rotate(45 -53 302.2)" fill="none" stroke="#fff" stroke-width="2.00"/><rect x="-55.2" y="300" width="4.4" height="4.4" transform="rotate(45 -53 302.2)" fill="none" stroke="#1e1e1e" stroke-width="0.9"/>
<path d="M-27.5,98 C-33.5,103 -33.5,116 -27.5,122 M27.5,122 C33.5,127 33.5,140 27.5,146" fill="#d9d9d9" stroke="none" stroke-width="1"/><path d="M-27.5,98 C-33.5,103 -33.5,116 -27.5,122 M27.5,122 C33.5,127 33.5,140 27.5,146" fill="none" stroke="#fff" stroke-width="2.10"/><path d="M-27.5,98 C-33.5,103 -33.5,116 -27.5,122 M27.5,122 C33.5,127 33.5,140 27.5,146" fill="none" stroke="#1e1e1e" stroke-width="1"/>
<path d="M-32.5,142.8 L-27,121 M34.4,167.4 L28.8,145" stroke="#fff" stroke-width="3.10" fill="none"/><path d="M-32.5,142.8 L-27,121 M34.4,167.4 L28.8,145" stroke="#222" stroke-width="2"/>
<path d="M0.0,-270.0 L6.0,-269.5 L11.0,-267.0 L15.0,-262.0 L18.0,-255.0 L21.0,-246.0 L23.0,-236.0 L25.0,-220.0 L27.5,-199.0 L27.5,-150.0 L27.5,95.0 L24.0,150.0 L20.0,200.0 L19.0,270.0 L19.0,356.0 L18.0,360.0 L15.0,388.0 L12.0,389.5 L-12.0,389.5 L-15.0,388.0 L-18.0,360.0 L-19.0,356.0 L-19.0,270.0 L-20.0,200.0 L-24.0,150.0 L-27.5,95.0 L-27.5,-150.0 L-27.5,-199.0 L-25.0,-220.0 L-23.0,-236.0 L-21.0,-246.0 L-18.0,-255.0 L-15.0,-262.0 L-11.0,-267.0 L-6.0,-269.5 L0.0,-270.0 Z" fill="#d9d9d9" stroke="none" stroke-width="1.15"/><path d="M0.0,-270.0 L6.0,-269.5 L11.0,-267.0 L15.0,-262.0 L18.0,-255.0 L21.0,-246.0 L23.0,-236.0 L25.0,-220.0 L27.5,-199.0 L27.5,-150.0 L27.5,95.0 L24.0,150.0 L20.0,200.0 L19.0,270.0 L19.0,356.0 L18.0,360.0 L15.0,388.0 L12.0,389.5 L-12.0,389.5 L-15.0,388.0 L-18.0,360.0 L-19.0,356.0 L-19.0,270.0 L-20.0,200.0 L-24.0,150.0 L-27.5,95.0 L-27.5,-150.0 L-27.5,-199.0 L-25.0,-220.0 L-23.0,-236.0 L-21.0,-246.0 L-18.0,-255.0 L-15.0,-262.0 L-11.0,-267.0 L-6.0,-269.5 L0.0,-270.0 Z" fill="none" stroke="#fff" stroke-width="2.25"/><path d="M0.0,-270.0 L6.0,-269.5 L11.0,-267.0 L15.0,-262.0 L18.0,-255.0 L21.0,-246.0 L23.0,-236.0 L25.0,-220.0 L27.5,-199.0 L27.5,-150.0 L27.5,95.0 L24.0,150.0 L20.0,200.0 L19.0,270.0 L19.0,356.0 L18.0,360.0 L15.0,388.0 L12.0,389.5 L-12.0,389.5 L-15.0,388.0 L-18.0,360.0 L-19.0,356.0 L-19.0,270.0 L-20.0,200.0 L-24.0,150.0 L-27.5,95.0 L-27.5,-150.0 L-27.5,-199.0 L-25.0,-220.0 L-23.0,-236.0 L-21.0,-246.0 L-18.0,-255.0 L-15.0,-262.0 L-11.0,-267.0 L-6.0,-269.5 L0.0,-270.0 Z" fill="none" stroke="#1e1e1e" stroke-width="1.15"/>
<path d="M25.0,-199.0 L25.0,95.0 L21.5,150.0 L17.5,200.0 L16.5,270.0 L16.5,356.0 M-25.0,-199.0 L-25.0,95.0 L-21.5,150.0 L-17.5,200.0 L-16.5,270.0 L-16.5,356.0 M16.0,-255.0 L19.0,-246.0 L21.0,-236.0 L23.0,-220.0 L25.0,-199.0 M-16.0,-255.0 L-19.0,-246.0 L-21.0,-236.0 L-23.0,-220.0 L-25.0,-199.0 M-16,-255 L16,-255 M-27.5,-199 L27.5,-199 M-27.5,-115 L27.5,-115 M-27.5,-57 L27.5,-57 M-27.5,35 L27.5,35 M-27.5,97 L27.5,97 M-20,200 L20,200 M-19,270 L19,270 M-19,356 L19,356 M2,-57 L2,35 M-23,-120 L-23,-191 L-1,-191 L-1,-163 L-23,-163 M-1,-176 L13,-176 M13.5,-123 L13.5,-192 M16,-121 L16,-197 L14.5,-199" fill="none" stroke="#fff" stroke-width="2.10"/><path d="M25.0,-199.0 L25.0,95.0 L21.5,150.0 L17.5,200.0 L16.5,270.0 L16.5,356.0 M-25.0,-199.0 L-25.0,95.0 L-21.5,150.0 L-17.5,200.0 L-16.5,270.0 L-16.5,356.0 M16.0,-255.0 L19.0,-246.0 L21.0,-236.0 L23.0,-220.0 L25.0,-199.0 M-16.0,-255.0 L-19.0,-246.0 L-21.0,-236.0 L-23.0,-220.0 L-25.0,-199.0 M-16,-255 L16,-255 M-27.5,-199 L27.5,-199 M-27.5,-115 L27.5,-115 M-27.5,-57 L27.5,-57 M-27.5,35 L27.5,35 M-27.5,97 L27.5,97 M-20,200 L20,200 M-19,270 L19,270 M-19,356 L19,356 M2,-57 L2,35 M-23,-120 L-23,-191 L-1,-191 L-1,-163 L-23,-163 M-1,-176 L13,-176 M13.5,-123 L13.5,-192 M16,-121 L16,-197 L14.5,-199" fill="none" stroke="#1e1e1e" stroke-width="1"/>
<path d="M-16,-255 C-14,-264 -8,-270 0,-270 C8,-270 14,-264 16,-255 Z" fill="#e6e6e6" stroke="none" stroke-width="1"/><path d="M-16,-255 C-14,-264 -8,-270 0,-270 C8,-270 14,-264 16,-255 Z" fill="none" stroke="#fff" stroke-width="2.10"/><path d="M-16,-255 C-14,-264 -8,-270 0,-270 C8,-270 14,-264 16,-255 Z" fill="none" stroke="#1e1e1e" stroke-width="1"/>
<path d="M-9,-256 C-8,-262 -4,-266 2,-268 M6,-256 C6,-262 4,-266 -1,-269 M-14,-262 L14,-262" fill="none" stroke="#fff" stroke-width="2.15"/><path d="M-9,-256 C-8,-262 -4,-266 2,-268 M6,-256 C6,-262 4,-266 -1,-269 M-14,-262 L14,-262" fill="none" stroke="#777" stroke-width="1.05"/>
<rect x="-16" y="-146.5" width="8" height="20" rx="4" fill="none" stroke="#fff" stroke-width="2.10"/><rect x="-16" y="-146.5" width="8" height="20" rx="4" fill="none" stroke="#1e1e1e" stroke-width="1"/>
<path d="M8.4,-128 C11.5,-124 11.5,-113 8.4,-108 C5.3,-113 5.3,-124 8.4,-128 Z" fill="none" stroke="#fff" stroke-width="2.10"/><path d="M8.4,-128 C11.5,-124 11.5,-113 8.4,-108 C5.3,-113 5.3,-124 8.4,-128 Z" fill="none" stroke="#1e1e1e" stroke-width="1"/>
<rect x="-9" y="-96" width="21" height="22" rx="3" fill="none" stroke="#fff" stroke-width="2.10"/><rect x="-9" y="-96" width="21" height="22" rx="3" fill="none" stroke="#1e1e1e" stroke-width="1"/>
<rect x="-9" y="173" width="21" height="22" rx="3" fill="none" stroke="#fff" stroke-width="2.10"/><rect x="-9" y="173" width="21" height="22" rx="3" fill="none" stroke="#1e1e1e" stroke-width="1"/>
<ellipse cx="0" cy="308" rx="5" ry="9" fill="none" stroke="#fff" stroke-width="2.10"/><ellipse cx="0" cy="308" rx="5" ry="9" fill="none" stroke="#1e1e1e" stroke-width="1"/><ellipse cx="0" cy="308" rx="2.2" ry="4" fill="none" stroke="#fff" stroke-width="2.00"/><ellipse cx="0" cy="308" rx="2.2" ry="4" fill="none" stroke="#1e1e1e" stroke-width="0.9"/>
<g fill="none" stroke="#1e1e1e" stroke-width="0.8"><circle cx="-18" cy="-20" r="1.5"/><circle cx="-12" cy="-5" r="1.5"/><circle cx="20" cy="20" r="1.5"/><circle cx="14" cy="5" r="1.5"/><circle cx="18" cy="-70" r="1.5"/></g>
<path d="M96.0,-115.0 L136.0,-115.0 L140.0,-113.5 L141.5,-110.0 L141.5,-90.0 L144.0,-80.0 L147.5,-78.0 L147.5,-63.0 L141.0,-58.0 L139.0,-48.0 L141.0,-18.0 L141.0,27.0 L137.0,70.0 L130.0,96.0 L119.0,123.0 L107.0,93.0 L97.0,55.0 L92.0,10.0 L88.0,-37.0 L87.0,-70.0 L90.5,-104.0 L92.0,-112.0 Z" fill="#d9d9d9" stroke="none" stroke-width="1.15"/><path d="M96.0,-115.0 L136.0,-115.0 L140.0,-113.5 L141.5,-110.0 L141.5,-90.0 L144.0,-80.0 L147.5,-78.0 L147.5,-63.0 L141.0,-58.0 L139.0,-48.0 L141.0,-18.0 L141.0,27.0 L137.0,70.0 L130.0,96.0 L119.0,123.0 L107.0,93.0 L97.0,55.0 L92.0,10.0 L88.0,-37.0 L87.0,-70.0 L90.5,-104.0 L92.0,-112.0 Z" fill="none" stroke="#fff" stroke-width="2.25"/><path d="M96.0,-115.0 L136.0,-115.0 L140.0,-113.5 L141.5,-110.0 L141.5,-90.0 L144.0,-80.0 L147.5,-78.0 L147.5,-63.0 L141.0,-58.0 L139.0,-48.0 L141.0,-18.0 L141.0,27.0 L137.0,70.0 L130.0,96.0 L119.0,123.0 L107.0,93.0 L97.0,55.0 L92.0,10.0 L88.0,-37.0 L87.0,-70.0 L90.5,-104.0 L92.0,-112.0 Z" fill="none" stroke="#1e1e1e" stroke-width="1.15"/>
<path d="M-96.0,-115.0 L-136.0,-115.0 L-140.0,-113.5 L-141.5,-110.0 L-141.5,-90.0 L-144.0,-80.0 L-147.5,-78.0 L-147.5,-63.0 L-141.0,-58.0 L-139.0,-48.0 L-141.0,-18.0 L-141.0,27.0 L-137.0,70.0 L-130.0,96.0 L-119.0,123.0 L-107.0,93.0 L-97.0,55.0 L-92.0,10.0 L-88.0,-37.0 L-87.0,-70.0 L-90.5,-104.0 L-92.0,-112.0 Z" fill="#d9d9d9" stroke="none" stroke-width="1.15"/><path d="M-96.0,-115.0 L-136.0,-115.0 L-140.0,-113.5 L-141.5,-110.0 L-141.5,-90.0 L-144.0,-80.0 L-147.5,-78.0 L-147.5,-63.0 L-141.0,-58.0 L-139.0,-48.0 L-141.0,-18.0 L-141.0,27.0 L-137.0,70.0 L-130.0,96.0 L-119.0,123.0 L-107.0,93.0 L-97.0,55.0 L-92.0,10.0 L-88.0,-37.0 L-87.0,-70.0 L-90.5,-104.0 L-92.0,-112.0 Z" fill="none" stroke="#fff" stroke-width="2.25"/><path d="M-96.0,-115.0 L-136.0,-115.0 L-140.0,-113.5 L-141.5,-110.0 L-141.5,-90.0 L-144.0,-80.0 L-147.5,-78.0 L-147.5,-63.0 L-141.0,-58.0 L-139.0,-48.0 L-141.0,-18.0 L-141.0,27.0 L-137.0,70.0 L-130.0,96.0 L-119.0,123.0 L-107.0,93.0 L-97.0,55.0 L-92.0,10.0 L-88.0,-37.0 L-87.0,-70.0 L-90.5,-104.0 L-92.0,-112.0 Z" fill="none" stroke="#1e1e1e" stroke-width="1.15"/>
<path d="M92.0,-106.3 L141.5,-106.3 M107.0,-105.5 L107.0,-78.0 M132.0,-105.5 L132.0,-78.0 M88.5,-77.5 L147.5,-77.5 M88.5,-67.0 L147.5,-67.0 M88.5,-64.0 L147.5,-64.0 M95.0,-77.5 L95.0,-67.0 M103.0,-77.5 L103.0,-67.0 M111.0,-77.5 L111.0,-67.0 M119.0,-77.5 L119.0,-67.0 M127.0,-77.5 L127.0,-67.0 M135.0,-77.5 L135.0,-67.0 M143.0,-77.5 L143.0,-67.0 M92.0,-64.0 L97.0,40.0 L105.0,80.0 M140.0,-58.0 L136.0,40.0 L128.0,80.0 M94.0,-20.0 L139.0,-20.0 M-92.0,-106.3 L-141.5,-106.3 M-107.0,-105.5 L-107.0,-78.0 M-132.0,-105.5 L-132.0,-78.0 M-88.5,-77.5 L-147.5,-77.5 M-88.5,-67.0 L-147.5,-67.0 M-88.5,-64.0 L-147.5,-64.0 M-95.0,-77.5 L-95.0,-67.0 M-103.0,-77.5 L-103.0,-67.0 M-111.0,-77.5 L-111.0,-67.0 M-119.0,-77.5 L-119.0,-67.0 M-127.0,-77.5 L-127.0,-67.0 M-135.0,-77.5 L-135.0,-67.0 M-143.0,-77.5 L-143.0,-67.0 M-92.0,-64.0 L-97.0,40.0 L-105.0,80.0 M-140.0,-58.0 L-136.0,40.0 L-128.0,80.0 M-94.0,-20.0 L-139.0,-20.0" fill="none" stroke="#fff" stroke-width="2.10"/><path d="M92.0,-106.3 L141.5,-106.3 M107.0,-105.5 L107.0,-78.0 M132.0,-105.5 L132.0,-78.0 M88.5,-77.5 L147.5,-77.5 M88.5,-67.0 L147.5,-67.0 M88.5,-64.0 L147.5,-64.0 M95.0,-77.5 L95.0,-67.0 M103.0,-77.5 L103.0,-67.0 M111.0,-77.5 L111.0,-67.0 M119.0,-77.5 L119.0,-67.0 M127.0,-77.5 L127.0,-67.0 M135.0,-77.5 L135.0,-67.0 M143.0,-77.5 L143.0,-67.0 M92.0,-64.0 L97.0,40.0 L105.0,80.0 M140.0,-58.0 L136.0,40.0 L128.0,80.0 M94.0,-20.0 L139.0,-20.0 M-92.0,-106.3 L-141.5,-106.3 M-107.0,-105.5 L-107.0,-78.0 M-132.0,-105.5 L-132.0,-78.0 M-88.5,-77.5 L-147.5,-77.5 M-88.5,-67.0 L-147.5,-67.0 M-88.5,-64.0 L-147.5,-64.0 M-95.0,-77.5 L-95.0,-67.0 M-103.0,-77.5 L-103.0,-67.0 M-111.0,-77.5 L-111.0,-67.0 M-119.0,-77.5 L-119.0,-67.0 M-127.0,-77.5 L-127.0,-67.0 M-135.0,-77.5 L-135.0,-67.0 M-143.0,-77.5 L-143.0,-67.0 M-92.0,-64.0 L-97.0,40.0 L-105.0,80.0 M-140.0,-58.0 L-136.0,40.0 L-128.0,80.0 M-94.0,-20.0 L-139.0,-20.0" fill="none" stroke="#1e1e1e" stroke-width="1"/>
<path d="M140,-77 C140,-87 141,-94 142.5,-97 C144,-93 144.7,-88 145,-85 C145.5,-90 146.5,-94 148,-96 C149.5,-91 150,-85 150,-77  M142,-80 C142,-86 142.5,-90 143,-92 M146.5,-80 C146.5,-86 147.5,-90 148,-91  M119,-77 C119,-87 120,-94 121.5,-97 C123,-93 123.7,-88 124,-85 C124.5,-90 125.5,-94 127,-96 C128.5,-91 129,-85 129,-77  M121,-80 C121,-86 121.5,-90 122,-92 M125.5,-80 C125.5,-86 126.5,-90 127,-91  M93,-77 C93,-87 94,-94 95.5,-97 C97,-93 97.7,-88 98,-85 C98.5,-90 99.5,-94 101,-96 C102.5,-91 103,-85 103,-77  M95,-80 C95,-86 95.5,-90 96,-92 M99.5,-80 C99.5,-86 100.5,-90 101,-91  M-140,-77 C-140,-87 -141,-94 -142.5,-97 C-144,-93 -144.7,-88 -145,-85 C-145.5,-90 -146.5,-94 -148,-96 C-149.5,-91 -150,-85 -150,-77  M-142,-80 C-142,-86 -142.5,-90 -143,-92 M-146.5,-80 C-146.5,-86 -147.5,-90 -148,-91  M-119,-77 C-119,-87 -120,-94 -121.5,-97 C-123,-93 -123.7,-88 -124,-85 C-124.5,-90 -125.5,-94 -127,-96 C-128.5,-91 -129,-85 -129,-77  M-121,-80 C-121,-86 -121.5,-90 -122,-92 M-125.5,-80 C-125.5,-86 -126.5,-90 -127,-91  M-93,-77 C-93,-87 -94,-94 -95.5,-97 C-97,-93 -97.7,-88 -98,-85 C-98.5,-90 -99.5,-94 -101,-96 C-102.5,-91 -103,-85 -103,-77  M-95,-80 C-95,-86 -95.5,-90 -96,-92 M-99.5,-80 C-99.5,-86 -100.5,-90 -101,-91 " fill="#e4e4e4" stroke="none" stroke-width="1"/><path d="M140,-77 C140,-87 141,-94 142.5,-97 C144,-93 144.7,-88 145,-85 C145.5,-90 146.5,-94 148,-96 C149.5,-91 150,-85 150,-77  M142,-80 C142,-86 142.5,-90 143,-92 M146.5,-80 C146.5,-86 147.5,-90 148,-91  M119,-77 C119,-87 120,-94 121.5,-97 C123,-93 123.7,-88 124,-85 C124.5,-90 125.5,-94 127,-96 C128.5,-91 129,-85 129,-77  M121,-80 C121,-86 121.5,-90 122,-92 M125.5,-80 C125.5,-86 126.5,-90 127,-91  M93,-77 C93,-87 94,-94 95.5,-97 C97,-93 97.7,-88 98,-85 C98.5,-90 99.5,-94 101,-96 C102.5,-91 103,-85 103,-77  M95,-80 C95,-86 95.5,-90 96,-92 M99.5,-80 C99.5,-86 100.5,-90 101,-91  M-140,-77 C-140,-87 -141,-94 -142.5,-97 C-144,-93 -144.7,-88 -145,-85 C-145.5,-90 -146.5,-94 -148,-96 C-149.5,-91 -150,-85 -150,-77  M-142,-80 C-142,-86 -142.5,-90 -143,-92 M-146.5,-80 C-146.5,-86 -147.5,-90 -148,-91  M-119,-77 C-119,-87 -120,-94 -121.5,-97 C-123,-93 -123.7,-88 -124,-85 C-124.5,-90 -125.5,-94 -127,-96 C-128.5,-91 -129,-85 -129,-77  M-121,-80 C-121,-86 -121.5,-90 -122,-92 M-125.5,-80 C-125.5,-86 -126.5,-90 -127,-91  M-93,-77 C-93,-87 -94,-94 -95.5,-97 C-97,-93 -97.7,-88 -98,-85 C-98.5,-90 -99.5,-94 -101,-96 C-102.5,-91 -103,-85 -103,-77  M-95,-80 C-95,-86 -95.5,-90 -96,-92 M-99.5,-80 C-99.5,-86 -100.5,-90 -101,-91 " fill="none" stroke="#fff" stroke-width="2.10"/><path d="M140,-77 C140,-87 141,-94 142.5,-97 C144,-93 144.7,-88 145,-85 C145.5,-90 146.5,-94 148,-96 C149.5,-91 150,-85 150,-77  M142,-80 C142,-86 142.5,-90 143,-92 M146.5,-80 C146.5,-86 147.5,-90 148,-91  M119,-77 C119,-87 120,-94 121.5,-97 C123,-93 123.7,-88 124,-85 C124.5,-90 125.5,-94 127,-96 C128.5,-91 129,-85 129,-77  M121,-80 C121,-86 121.5,-90 122,-92 M125.5,-80 C125.5,-86 126.5,-90 127,-91  M93,-77 C93,-87 94,-94 95.5,-97 C97,-93 97.7,-88 98,-85 C98.5,-90 99.5,-94 101,-96 C102.5,-91 103,-85 103,-77  M95,-80 C95,-86 95.5,-90 96,-92 M99.5,-80 C99.5,-86 100.5,-90 101,-91  M-140,-77 C-140,-87 -141,-94 -142.5,-97 C-144,-93 -144.7,-88 -145,-85 C-145.5,-90 -146.5,-94 -148,-96 C-149.5,-91 -150,-85 -150,-77  M-142,-80 C-142,-86 -142.5,-90 -143,-92 M-146.5,-80 C-146.5,-86 -147.5,-90 -148,-91  M-119,-77 C-119,-87 -120,-94 -121.5,-97 C-123,-93 -123.7,-88 -124,-85 C-124.5,-90 -125.5,-94 -127,-96 C-128.5,-91 -129,-85 -129,-77  M-121,-80 C-121,-86 -121.5,-90 -122,-92 M-125.5,-80 C-125.5,-86 -126.5,-90 -127,-91  M-93,-77 C-93,-87 -94,-94 -95.5,-97 C-97,-93 -97.7,-88 -98,-85 C-98.5,-90 -99.5,-94 -101,-96 C-102.5,-91 -103,-85 -103,-77  M-95,-80 C-95,-86 -95.5,-90 -96,-92 M-99.5,-80 C-99.5,-86 -100.5,-90 -101,-91 " fill="none" stroke="#1e1e1e" stroke-width="1"/>
<ellipse cx="116" cy="60" rx="5" ry="11" fill="none" stroke="#fff" stroke-width="2.10"/><ellipse cx="116" cy="60" rx="5" ry="11" fill="none" stroke="#1e1e1e" stroke-width="1"/>
<ellipse cx="-116" cy="60" rx="5" ry="11" fill="none" stroke="#fff" stroke-width="2.10"/><ellipse cx="-116" cy="60" rx="5" ry="11" fill="none" stroke="#1e1e1e" stroke-width="1"/>
<path d="M135,283 C139.5,283 140,291 139.5,300 L137,361 L132.5,300 C132,291 131.5,283 135,283 Z" fill="#d9d9d9" stroke="none" stroke-width="1"/><path d="M135,283 C139.5,283 140,291 139.5,300 L137,361 L132.5,300 C132,291 131.5,283 135,283 Z" fill="none" stroke="#fff" stroke-width="2.10"/><path d="M135,283 C139.5,283 140,291 139.5,300 L137,361 L132.5,300 C132,291 131.5,283 135,283 Z" fill="none" stroke="#1e1e1e" stroke-width="1"/>
<path d="M133,300 L139.5,300" stroke="#fff" stroke-width="1.90" fill="none"/><path d="M133,300 L139.5,300" stroke="#1e1e1e" stroke-width="0.8"/>
<path d="M-135,283 C-139.5,283 -140,291 -139.5,300 L-137,361 L-132.5,300 C-132,291 -131.5,283 -135,283 Z" fill="#d9d9d9" stroke="none" stroke-width="1"/><path d="M-135,283 C-139.5,283 -140,291 -139.5,300 L-137,361 L-132.5,300 C-132,291 -131.5,283 -135,283 Z" fill="none" stroke="#fff" stroke-width="2.10"/><path d="M-135,283 C-139.5,283 -140,291 -139.5,300 L-137,361 L-132.5,300 C-132,291 -131.5,283 -135,283 Z" fill="none" stroke="#1e1e1e" stroke-width="1"/>
<path d="M-133,300 L-139.5,300" stroke="#fff" stroke-width="1.90" fill="none"/><path d="M-133,300 L-139.5,300" stroke="#1e1e1e" stroke-width="0.8"/>
<rect x="115.5" y="-137" width="7" height="13" rx="3.5" fill="#e4e4e4" stroke="none" stroke-width="1"/><rect x="115.5" y="-137" width="7" height="13" rx="3.5" fill="none" stroke="#fff" stroke-width="2.10"/><rect x="115.5" y="-137" width="7" height="13" rx="3.5" fill="none" stroke="#1e1e1e" stroke-width="1"/>
<rect x="112" y="-125" width="14" height="9" rx="3" fill="#3a3a3a"/>
<circle cx="119" cy="-120.5" r="2" fill="#666"/>
<rect x="-122.5" y="-137" width="7" height="13" rx="3.5" fill="#e4e4e4" stroke="none" stroke-width="1"/><rect x="-122.5" y="-137" width="7" height="13" rx="3.5" fill="none" stroke="#fff" stroke-width="2.10"/><rect x="-122.5" y="-137" width="7" height="13" rx="3.5" fill="none" stroke="#1e1e1e" stroke-width="1"/>
<rect x="-126" y="-125" width="14" height="9" rx="3" fill="#3a3a3a"/>
<circle cx="-119" cy="-120.5" r="2" fill="#666"/>
<path d="M-2,389 L-2,414 M6.3,389 L6.3,414" stroke="#fff" stroke-width="2.90" fill="none"/><path d="M-2,389 L-2,414 M6.3,389 L6.3,414" stroke="#222" stroke-width="1.8"/>
<path d="M-15,-259 L-15,-273 M0,-269 L0,-293" stroke="#fff" stroke-width="2.90" fill="none"/><path d="M-15,-259 L-15,-273 M0,-269 L0,-293" stroke="#222" stroke-width="1.8"/></g>
<g id="planB"><path d="M0.0,-60.0 L28.0,-60.0 L88.0,-56.0 L150.0,-53.0 L250.0,-44.0 L330.0,-38.0 L391.0,-31.0 C408.0,-29.0 420.0,-16.0 419.5,-2.0 C419.0,12.0 410.0,30.0 392.0,37.0 L298.0,52.0 L154.0,78.0 L138.0,80.0 L101.0,80.0 L29.0,91.0 L0.0,91.0 Z" fill="#d9d9d9" stroke="none" stroke-width="1.15"/><path d="M0.0,-60.0 L28.0,-60.0 L88.0,-56.0 L150.0,-53.0 L250.0,-44.0 L330.0,-38.0 L391.0,-31.0 C408.0,-29.0 420.0,-16.0 419.5,-2.0 C419.0,12.0 410.0,30.0 392.0,37.0 L298.0,52.0 L154.0,78.0 L138.0,80.0 L101.0,80.0 L29.0,91.0 L0.0,91.0 Z" fill="none" stroke="#fff" stroke-width="2.25"/><path d="M0.0,-60.0 L28.0,-60.0 L88.0,-56.0 L150.0,-53.0 L250.0,-44.0 L330.0,-38.0 L391.0,-31.0 C408.0,-29.0 420.0,-16.0 419.5,-2.0 C419.0,12.0 410.0,30.0 392.0,37.0 L298.0,52.0 L154.0,78.0 L138.0,80.0 L101.0,80.0 L29.0,91.0 L0.0,91.0 Z" fill="none" stroke="#1e1e1e" stroke-width="1.15"/>
<path d="M0.0,-60.0 L-28.0,-60.0 L-88.0,-56.0 L-150.0,-53.0 L-250.0,-44.0 L-330.0,-38.0 L-391.0,-31.0 C-408.0,-29.0 -420.0,-16.0 -419.5,-2.0 C-419.0,12.0 -410.0,30.0 -392.0,37.0 L-298.0,52.0 L-154.0,78.0 L-138.0,80.0 L-101.0,80.0 L-29.0,91.0 L0.0,91.0 Z" fill="#d9d9d9" stroke="none" stroke-width="1.15"/><path d="M0.0,-60.0 L-28.0,-60.0 L-88.0,-56.0 L-150.0,-53.0 L-250.0,-44.0 L-330.0,-38.0 L-391.0,-31.0 C-408.0,-29.0 -420.0,-16.0 -419.5,-2.0 C-419.0,12.0 -410.0,30.0 -392.0,37.0 L-298.0,52.0 L-154.0,78.0 L-138.0,80.0 L-101.0,80.0 L-29.0,91.0 L0.0,91.0 Z" fill="none" stroke="#fff" stroke-width="2.25"/><path d="M0.0,-60.0 L-28.0,-60.0 L-88.0,-56.0 L-150.0,-53.0 L-250.0,-44.0 L-330.0,-38.0 L-391.0,-31.0 C-408.0,-29.0 -420.0,-16.0 -419.5,-2.0 C-419.0,12.0 -410.0,30.0 -392.0,37.0 L-298.0,52.0 L-154.0,78.0 L-138.0,80.0 L-101.0,80.0 L-29.0,91.0 L0.0,91.0 Z" fill="none" stroke="#1e1e1e" stroke-width="1.15"/>
<path d="M0.0,271.0 L19.0,271.0 L131.0,294.0 L131.0,331.0 L112.0,358.0 L27.0,361.0 L19.0,356.0 L0.0,356.0 L0.0,356.0 L-19.0,356.0 L-27.0,361.0 L-112.0,358.0 L-131.0,331.0 L-131.0,294.0 L-19.0,271.0 L0.0,271.0 Z" fill="#d9d9d9" stroke="none" stroke-width="1.15"/><path d="M0.0,271.0 L19.0,271.0 L131.0,294.0 L131.0,331.0 L112.0,358.0 L27.0,361.0 L19.0,356.0 L0.0,356.0 L0.0,356.0 L-19.0,356.0 L-27.0,361.0 L-112.0,358.0 L-131.0,331.0 L-131.0,294.0 L-19.0,271.0 L0.0,271.0 Z" fill="none" stroke="#fff" stroke-width="2.25"/><path d="M0.0,271.0 L19.0,271.0 L131.0,294.0 L131.0,331.0 L112.0,358.0 L27.0,361.0 L19.0,356.0 L0.0,356.0 L0.0,356.0 L-19.0,356.0 L-27.0,361.0 L-112.0,358.0 L-131.0,331.0 L-131.0,294.0 L-19.0,271.0 L0.0,271.0 Z" fill="none" stroke="#1e1e1e" stroke-width="1.15"/>
<path d="M141.0,-42.8 L200.0,-39.0 L250.0,-35.6 L300.0,-32.9 L350.0,-29.4 L390.5,-25.6 M141.0,-34.8 L200.0,-32.0 L250.0,-29.3 L300.0,-27.4 L350.0,-24.6 L390.5,-21.5 M141.0,6.4 L200.0,4.7 L250.0,3.1 L300.0,1.1 L350.0,0.0 L390.5,-0.3 M141.0,47.0 L200.0,40.7 L250.0,35.0 L300.0,29.2 L350.0,24.2 L390.5,20.5 M141.0,75.0 L200.0,65.6 L250.0,57.0 L300.0,48.5 L350.0,40.9 L390.5,34.8 M390.5,-31.1 L390.5,37.2 M236.0,-45.3 L236.0,63.2 M246.0,47.1 L245.5,57.8 M255.0,45.8 L254.5,56.2 M264.0,44.5 L263.5,54.7 M273.0,43.2 L272.5,53.1 M282.0,41.9 L281.5,51.6 M291.0,40.6 L290.5,50.1 M300.0,39.3 L299.5,48.5 M309.0,38.2 L308.5,47.2 M318.0,37.1 L317.5,45.8 M327.0,35.9 L326.5,44.5 M336.0,34.8 L335.5,43.1 M345.0,33.7 L344.5,41.7 M354.0,32.7 L353.5,40.4 M363.0,31.6 L362.5,39.0 M372.0,30.5 L371.5,37.7 M381.0,29.4 L380.5,36.3 M141.0,29.1 L236.0,22.0 M27.0,-50.9 L88.0,-47.7 M27.0,12.5 L88.0,10.2 M27.0,45.7 L88.0,40.6 M27.0,82.8 L88.0,74.5 M55.0,-37.9 L55.0,11.5 M60.0,43.0 L60.0,78.5 M-141.0,-42.8 L-200.0,-39.0 L-250.0,-35.6 L-300.0,-32.9 L-350.0,-29.4 L-390.5,-25.6 M-141.0,-34.8 L-200.0,-32.0 L-250.0,-29.3 L-300.0,-27.4 L-350.0,-24.6 L-390.5,-21.5 M-141.0,6.4 L-200.0,4.7 L-250.0,3.1 L-300.0,1.1 L-350.0,0.0 L-390.5,-0.3 M-141.0,47.0 L-200.0,40.7 L-250.0,35.0 L-300.0,29.2 L-350.0,24.2 L-390.5,20.5 M-141.0,75.0 L-200.0,65.6 L-250.0,57.0 L-300.0,48.5 L-350.0,40.9 L-390.5,34.8 M-390.5,-31.1 L-390.5,37.2 M-236.0,-45.3 L-236.0,63.2 M-246.0,47.1 L-245.5,57.8 M-255.0,45.8 L-254.5,56.2 M-264.0,44.5 L-263.5,54.7 M-273.0,43.2 L-272.5,53.1 M-282.0,41.9 L-281.5,51.6 M-291.0,40.6 L-290.5,50.1 M-300.0,39.3 L-299.5,48.5 M-309.0,38.2 L-308.5,47.2 M-318.0,37.1 L-317.5,45.8 M-327.0,35.9 L-326.5,44.5 M-336.0,34.8 L-335.5,43.1 M-345.0,33.7 L-344.5,41.7 M-354.0,32.7 L-353.5,40.4 M-363.0,31.6 L-362.5,39.0 M-372.0,30.5 L-371.5,37.7 M-381.0,29.4 L-380.5,36.3 M-141.0,29.1 L-236.0,22.0 M-27.0,-50.9 L-88.0,-47.7 M-27.0,12.5 L-88.0,10.2 M-27.0,45.7 L-88.0,40.6 M-27.0,82.8 L-88.0,74.5 M-55.0,-37.9 L-55.0,11.5 M-60.0,43.0 L-60.0,78.5" fill="none" stroke="#fff" stroke-width="2.10"/><path d="M141.0,-42.8 L200.0,-39.0 L250.0,-35.6 L300.0,-32.9 L350.0,-29.4 L390.5,-25.6 M141.0,-34.8 L200.0,-32.0 L250.0,-29.3 L300.0,-27.4 L350.0,-24.6 L390.5,-21.5 M141.0,6.4 L200.0,4.7 L250.0,3.1 L300.0,1.1 L350.0,0.0 L390.5,-0.3 M141.0,47.0 L200.0,40.7 L250.0,35.0 L300.0,29.2 L350.0,24.2 L390.5,20.5 M141.0,75.0 L200.0,65.6 L250.0,57.0 L300.0,48.5 L350.0,40.9 L390.5,34.8 M390.5,-31.1 L390.5,37.2 M236.0,-45.3 L236.0,63.2 M246.0,47.1 L245.5,57.8 M255.0,45.8 L254.5,56.2 M264.0,44.5 L263.5,54.7 M273.0,43.2 L272.5,53.1 M282.0,41.9 L281.5,51.6 M291.0,40.6 L290.5,50.1 M300.0,39.3 L299.5,48.5 M309.0,38.2 L308.5,47.2 M318.0,37.1 L317.5,45.8 M327.0,35.9 L326.5,44.5 M336.0,34.8 L335.5,43.1 M345.0,33.7 L344.5,41.7 M354.0,32.7 L353.5,40.4 M363.0,31.6 L362.5,39.0 M372.0,30.5 L371.5,37.7 M381.0,29.4 L380.5,36.3 M141.0,29.1 L236.0,22.0 M27.0,-50.9 L88.0,-47.7 M27.0,12.5 L88.0,10.2 M27.0,45.7 L88.0,40.6 M27.0,82.8 L88.0,74.5 M55.0,-37.9 L55.0,11.5 M60.0,43.0 L60.0,78.5 M-141.0,-42.8 L-200.0,-39.0 L-250.0,-35.6 L-300.0,-32.9 L-350.0,-29.4 L-390.5,-25.6 M-141.0,-34.8 L-200.0,-32.0 L-250.0,-29.3 L-300.0,-27.4 L-350.0,-24.6 L-390.5,-21.5 M-141.0,6.4 L-200.0,4.7 L-250.0,3.1 L-300.0,1.1 L-350.0,0.0 L-390.5,-0.3 M-141.0,47.0 L-200.0,40.7 L-250.0,35.0 L-300.0,29.2 L-350.0,24.2 L-390.5,20.5 M-141.0,75.0 L-200.0,65.6 L-250.0,57.0 L-300.0,48.5 L-350.0,40.9 L-390.5,34.8 M-390.5,-31.1 L-390.5,37.2 M-236.0,-45.3 L-236.0,63.2 M-246.0,47.1 L-245.5,57.8 M-255.0,45.8 L-254.5,56.2 M-264.0,44.5 L-263.5,54.7 M-273.0,43.2 L-272.5,53.1 M-282.0,41.9 L-281.5,51.6 M-291.0,40.6 L-290.5,50.1 M-300.0,39.3 L-299.5,48.5 M-309.0,38.2 L-308.5,47.2 M-318.0,37.1 L-317.5,45.8 M-327.0,35.9 L-326.5,44.5 M-336.0,34.8 L-335.5,43.1 M-345.0,33.7 L-344.5,41.7 M-354.0,32.7 L-353.5,40.4 M-363.0,31.6 L-362.5,39.0 M-372.0,30.5 L-371.5,37.7 M-381.0,29.4 L-380.5,36.3 M-141.0,29.1 L-236.0,22.0 M-27.0,-50.9 L-88.0,-47.7 M-27.0,12.5 L-88.0,10.2 M-27.0,45.7 L-88.0,40.6 M-27.0,82.8 L-88.0,74.5 M-55.0,-37.9 L-55.0,11.5 M-60.0,43.0 L-60.0,78.5" fill="none" stroke="#1e1e1e" stroke-width="1"/><path d="M238.0,47.4 L300.0,38.5 L390.5,27.5 M-238.0,47.4 L-300.0,38.5 L-390.5,27.5" fill="none" stroke="#666" stroke-width="2.4" class="nohalo"/>
<path d="M330,-38 L330,-79" stroke="#fff" stroke-width="2.40" fill="none"/><path d="M330,-38 L330,-79" stroke="#222" stroke-width="1.3"/>
<path d="M391.0,-31.0 C408.0,-29.0 420.0,-16.0 419.5,-2.0 C419.0,12.0 410.0,30.0 392.0,37.0" fill="none" stroke="#fff" stroke-width="3.6"/>
<path d="M391.0,-31.0 C408.0,-29.0 420.0,-16.0 419.5,-2.0 C419.0,12.0 410.0,30.0 392.0,37.0" fill="none" stroke="#fff" stroke-width="3.00"/><path d="M391.0,-31.0 C408.0,-29.0 420.0,-16.0 419.5,-2.0 C419.0,12.0 410.0,30.0 392.0,37.0" fill="none" stroke="#555" stroke-width="1.9"/>
<ellipse cx="416.5" cy="-0.5" rx="2.4" ry="1.8" fill="#ddd" stroke="#333" stroke-width="1.1" class="nohalo"/>
<path d="M-391.0,-31.0 C-408.0,-29.0 -420.0,-16.0 -419.5,-2.0 C-419.0,12.0 -410.0,30.0 -392.0,37.0" fill="none" stroke="#fff" stroke-width="3.6"/>
<path d="M-391.0,-31.0 C-408.0,-29.0 -420.0,-16.0 -419.5,-2.0 C-419.0,12.0 -410.0,30.0 -392.0,37.0" fill="none" stroke="#fff" stroke-width="3.00"/><path d="M-391.0,-31.0 C-408.0,-29.0 -420.0,-16.0 -419.5,-2.0 C-419.0,12.0 -410.0,30.0 -392.0,37.0" fill="none" stroke="#555" stroke-width="1.9"/>
<ellipse cx="-416.5" cy="-0.5" rx="2.4" ry="1.8" fill="#ddd" stroke="#333" stroke-width="1.1" class="nohalo"/>
<path d="M232.6,-44.5 C232.6,-36.0 244.6,-36.0 244.6,-44.5 Z" fill="#ececec" stroke="none" stroke-width="1"/><path d="M232.6,-44.5 C232.6,-36.0 244.6,-36.0 244.6,-44.5 Z" fill="none" stroke="#fff" stroke-width="2.10"/><path d="M232.6,-44.5 C232.6,-36.0 244.6,-36.0 244.6,-44.5 Z" fill="none" stroke="#1e1e1e" stroke-width="1"/>
<path d="M234.6,-42.0 C236.6,-38.0 240.6,-38.0 242.6,-42.0" fill="none" stroke="#fff" stroke-width="2.00"/><path d="M234.6,-42.0 C236.6,-38.0 240.6,-38.0 242.6,-42.0" fill="none" stroke="#1e1e1e" stroke-width="0.9"/>
<path d="M232.5,-45.575 L232.5,-33.0 L245,-33.0 L245,-44.5" fill="none" stroke="#fff" stroke-width="2.10"/><path d="M232.5,-45.575 L232.5,-33.0 L245,-33.0 L245,-44.5" fill="none" stroke="#1e1e1e" stroke-width="1"/>
<rect x="184" y="40.5" width="8" height="5" rx="1" fill="#eee" stroke="none" stroke-width="1.3"/><rect x="184" y="40.5" width="8" height="5" rx="1" fill="none" stroke="#fff" stroke-width="2.40"/><rect x="184" y="40.5" width="8" height="5" rx="1" fill="none" stroke="#222" stroke-width="1.3"/>
<path d="M184,40.8 L192,40.8" stroke="#111" stroke-width="1.6" class="nohalo"/>
<rect x="170" y="40.5" width="8" height="5" rx="1" fill="#eee" stroke="none" stroke-width="1.3"/><rect x="170" y="40.5" width="8" height="5" rx="1" fill="none" stroke="#fff" stroke-width="2.40"/><rect x="170" y="40.5" width="8" height="5" rx="1" fill="none" stroke="#222" stroke-width="1.3"/>
<path d="M170,40.8 L178,40.8" stroke="#111" stroke-width="1.6" class="nohalo"/>
<rect x="232" y="36" width="8" height="8" fill="none" stroke="#fff" stroke-width="2.10"/><rect x="232" y="36" width="8" height="8" fill="none" stroke="#1e1e1e" stroke-width="1"/>
<path d="M-232.6,-44.5 C-232.6,-36.0 -244.6,-36.0 -244.6,-44.5 Z" fill="#ececec" stroke="none" stroke-width="1"/><path d="M-232.6,-44.5 C-232.6,-36.0 -244.6,-36.0 -244.6,-44.5 Z" fill="none" stroke="#fff" stroke-width="2.10"/><path d="M-232.6,-44.5 C-232.6,-36.0 -244.6,-36.0 -244.6,-44.5 Z" fill="none" stroke="#1e1e1e" stroke-width="1"/>
<path d="M-234.6,-42.0 C-236.6,-38.0 -240.6,-38.0 -242.6,-42.0" fill="none" stroke="#fff" stroke-width="2.00"/><path d="M-234.6,-42.0 C-236.6,-38.0 -240.6,-38.0 -242.6,-42.0" fill="none" stroke="#1e1e1e" stroke-width="0.9"/>
<path d="M-232.5,-45.575 L-232.5,-33.0 L-245,-33.0 L-245,-44.5" fill="none" stroke="#fff" stroke-width="2.10"/><path d="M-232.5,-45.575 L-232.5,-33.0 L-245,-33.0 L-245,-44.5" fill="none" stroke="#1e1e1e" stroke-width="1"/>
<rect x="-192" y="40.5" width="8" height="5" rx="1" fill="#eee" stroke="none" stroke-width="1.3"/><rect x="-192" y="40.5" width="8" height="5" rx="1" fill="none" stroke="#fff" stroke-width="2.40"/><rect x="-192" y="40.5" width="8" height="5" rx="1" fill="none" stroke="#222" stroke-width="1.3"/>
<path d="M-192,40.8 L-184,40.8" stroke="#111" stroke-width="1.6" class="nohalo"/>
<rect x="-178" y="40.5" width="8" height="5" rx="1" fill="#eee" stroke="none" stroke-width="1.3"/><rect x="-178" y="40.5" width="8" height="5" rx="1" fill="none" stroke="#fff" stroke-width="2.40"/><rect x="-178" y="40.5" width="8" height="5" rx="1" fill="none" stroke="#222" stroke-width="1.3"/>
<path d="M-178,40.8 L-170,40.8" stroke="#111" stroke-width="1.6" class="nohalo"/>
<rect x="-240" y="36" width="8" height="8" fill="none" stroke="#fff" stroke-width="2.10"/><rect x="-240" y="36" width="8" height="8" fill="none" stroke="#1e1e1e" stroke-width="1"/>
<path d="M128.0,306.0 L19.0,283.0 M128.0,325.0 L19.0,304.0 M130.0,329.0 L19.0,309.0 M34.0,310.9 L32.0,358.0 M44.0,312.8 L42.0,358.0 M54.0,314.7 L52.0,358.0 M64.0,316.7 L62.0,358.0 M74.0,318.6 L72.0,358.0 M84.0,320.5 L82.0,358.0 M94.0,322.4 L92.0,358.0 M104.0,324.4 L102.0,358.0 M114.0,326.3 L112.0,358.0 M124.0,328.2 L122.0,358.0 M-128.0,306.0 L-19.0,283.0 M-128.0,325.0 L-19.0,304.0 M-130.0,329.0 L-19.0,309.0 M-34.0,310.9 L-32.0,358.0 M-44.0,312.8 L-42.0,358.0 M-54.0,314.7 L-52.0,358.0 M-64.0,316.7 L-62.0,358.0 M-74.0,318.6 L-72.0,358.0 M-84.0,320.5 L-82.0,358.0 M-94.0,322.4 L-92.0,358.0 M-104.0,324.4 L-102.0,358.0 M-114.0,326.3 L-112.0,358.0 M-124.0,328.2 L-122.0,358.0" fill="none" stroke="#fff" stroke-width="2.10"/><path d="M128.0,306.0 L19.0,283.0 M128.0,325.0 L19.0,304.0 M130.0,329.0 L19.0,309.0 M34.0,310.9 L32.0,358.0 M44.0,312.8 L42.0,358.0 M54.0,314.7 L52.0,358.0 M64.0,316.7 L62.0,358.0 M74.0,318.6 L72.0,358.0 M84.0,320.5 L82.0,358.0 M94.0,322.4 L92.0,358.0 M104.0,324.4 L102.0,358.0 M114.0,326.3 L112.0,358.0 M124.0,328.2 L122.0,358.0 M-128.0,306.0 L-19.0,283.0 M-128.0,325.0 L-19.0,304.0 M-130.0,329.0 L-19.0,309.0 M-34.0,310.9 L-32.0,358.0 M-44.0,312.8 L-42.0,358.0 M-54.0,314.7 L-52.0,358.0 M-64.0,316.7 L-62.0,358.0 M-74.0,318.6 L-72.0,358.0 M-84.0,320.5 L-82.0,358.0 M-94.0,322.4 L-92.0,358.0 M-104.0,324.4 L-102.0,358.0 M-114.0,326.3 L-112.0,358.0 M-124.0,328.2 L-122.0,358.0" fill="none" stroke="#1e1e1e" stroke-width="1"/>
<rect x="50.8" y="300" width="4.4" height="4.4" transform="rotate(45 53 302.2)" fill="none" stroke="#fff" stroke-width="2.00"/><rect x="50.8" y="300" width="4.4" height="4.4" transform="rotate(45 53 302.2)" fill="none" stroke="#1e1e1e" stroke-width="0.9"/>
<rect x="-55.2" y="300" width="4.4" height="4.4" transform="rotate(45 -53 302.2)" fill="none" stroke="#fff" stroke-width="2.00"/><rect x="-55.2" y="300" width="4.4" height="4.4" transform="rotate(45 -53 302.2)" fill="none" stroke="#1e1e1e" stroke-width="0.9"/>
<path d="M-27.5,122 C-33.5,127 -33.5,140 -27.5,146 M27.5,98 C33.5,103 33.5,116 27.5,122" fill="#d9d9d9" stroke="none" stroke-width="1"/><path d="M-27.5,122 C-33.5,127 -33.5,140 -27.5,146 M27.5,98 C33.5,103 33.5,116 27.5,122" fill="none" stroke="#fff" stroke-width="2.10"/><path d="M-27.5,122 C-33.5,127 -33.5,140 -27.5,146 M27.5,98 C33.5,103 33.5,116 27.5,122" fill="none" stroke="#1e1e1e" stroke-width="1"/>
<path d="M-35,165.8 L-29.6,144 M33.2,142.1 L28.6,121" stroke="#fff" stroke-width="3.10" fill="none"/><path d="M-35,165.8 L-29.6,144 M33.2,142.1 L28.6,121" stroke="#222" stroke-width="2"/>
<path d="M0.0,-270.0 L6.0,-269.5 L11.0,-267.0 L15.0,-262.0 L18.0,-255.0 L21.0,-246.0 L23.0,-236.0 L25.0,-220.0 L27.5,-199.0 L27.5,-150.0 L27.5,95.0 L24.0,150.0 L20.0,200.0 L19.0,270.0 L19.0,356.0 L18.0,360.0 L15.0,388.0 L12.0,389.5 L-12.0,389.5 L-15.0,388.0 L-18.0,360.0 L-19.0,356.0 L-19.0,270.0 L-20.0,200.0 L-24.0,150.0 L-27.5,95.0 L-27.5,-150.0 L-27.5,-199.0 L-25.0,-220.0 L-23.0,-236.0 L-21.0,-246.0 L-18.0,-255.0 L-15.0,-262.0 L-11.0,-267.0 L-6.0,-269.5 L0.0,-270.0 Z" fill="#d9d9d9" stroke="none" stroke-width="1.15"/><path d="M0.0,-270.0 L6.0,-269.5 L11.0,-267.0 L15.0,-262.0 L18.0,-255.0 L21.0,-246.0 L23.0,-236.0 L25.0,-220.0 L27.5,-199.0 L27.5,-150.0 L27.5,95.0 L24.0,150.0 L20.0,200.0 L19.0,270.0 L19.0,356.0 L18.0,360.0 L15.0,388.0 L12.0,389.5 L-12.0,389.5 L-15.0,388.0 L-18.0,360.0 L-19.0,356.0 L-19.0,270.0 L-20.0,200.0 L-24.0,150.0 L-27.5,95.0 L-27.5,-150.0 L-27.5,-199.0 L-25.0,-220.0 L-23.0,-236.0 L-21.0,-246.0 L-18.0,-255.0 L-15.0,-262.0 L-11.0,-267.0 L-6.0,-269.5 L0.0,-270.0 Z" fill="none" stroke="#fff" stroke-width="2.25"/><path d="M0.0,-270.0 L6.0,-269.5 L11.0,-267.0 L15.0,-262.0 L18.0,-255.0 L21.0,-246.0 L23.0,-236.0 L25.0,-220.0 L27.5,-199.0 L27.5,-150.0 L27.5,95.0 L24.0,150.0 L20.0,200.0 L19.0,270.0 L19.0,356.0 L18.0,360.0 L15.0,388.0 L12.0,389.5 L-12.0,389.5 L-15.0,388.0 L-18.0,360.0 L-19.0,356.0 L-19.0,270.0 L-20.0,200.0 L-24.0,150.0 L-27.5,95.0 L-27.5,-150.0 L-27.5,-199.0 L-25.0,-220.0 L-23.0,-236.0 L-21.0,-246.0 L-18.0,-255.0 L-15.0,-262.0 L-11.0,-267.0 L-6.0,-269.5 L0.0,-270.0 Z" fill="none" stroke="#1e1e1e" stroke-width="1.15"/>
<path d="M25.0,-199.0 L25.0,95.0 L21.5,150.0 L17.5,200.0 L16.5,270.0 L16.5,356.0 M-25.0,-199.0 L-25.0,95.0 L-21.5,150.0 L-17.5,200.0 L-16.5,270.0 L-16.5,356.0 M16.0,-255.0 L19.0,-246.0 L21.0,-236.0 L23.0,-220.0 L25.0,-199.0 M-16.0,-255.0 L-19.0,-246.0 L-21.0,-236.0 L-23.0,-220.0 L-25.0,-199.0 M-27.5,-199 L27.5,-199 M-27.5,-183 L27.5,-183 M-27.5,-115 L27.5,-115 M-27.5,-57 L27.5,-57 M-27.5,-27 L27.5,-27 M-27.5,35 L27.5,35 M-27.5,97 L27.5,97 M-20,200 L20,200 M-19,270 L19,270 M-19,356 L19,356" fill="none" stroke="#fff" stroke-width="2.10"/><path d="M25.0,-199.0 L25.0,95.0 L21.5,150.0 L17.5,200.0 L16.5,270.0 L16.5,356.0 M-25.0,-199.0 L-25.0,95.0 L-21.5,150.0 L-17.5,200.0 L-16.5,270.0 L-16.5,356.0 M16.0,-255.0 L19.0,-246.0 L21.0,-236.0 L23.0,-220.0 L25.0,-199.0 M-16.0,-255.0 L-19.0,-246.0 L-21.0,-236.0 L-23.0,-220.0 L-25.0,-199.0 M-27.5,-199 L27.5,-199 M-27.5,-183 L27.5,-183 M-27.5,-115 L27.5,-115 M-27.5,-57 L27.5,-57 M-27.5,-27 L27.5,-27 M-27.5,35 L27.5,35 M-27.5,97 L27.5,97 M-20,200 L20,200 M-19,270 L19,270 M-19,356 L19,356" fill="none" stroke="#1e1e1e" stroke-width="1"/>
<path d="M-25,-205 L-23,-236 L-21,-246 L-18,-255 L-15,-262 L-11,-267 L-6,-269.5 L0,-270 L6,-269.5 L11,-267 L15,-262 L18,-255 L21,-246 L23,-236 L25,-205 Z" fill="#e8e8e8" stroke="none" stroke-width="1.15"/><path d="M-25,-205 L-23,-236 L-21,-246 L-18,-255 L-15,-262 L-11,-267 L-6,-269.5 L0,-270 L6,-269.5 L11,-267 L15,-262 L18,-255 L21,-246 L23,-236 L25,-205 Z" fill="none" stroke="#fff" stroke-width="2.25"/><path d="M-25,-205 L-23,-236 L-21,-246 L-18,-255 L-15,-262 L-11,-267 L-6,-269.5 L0,-270 L6,-269.5 L11,-267 L15,-262 L18,-255 L21,-246 L23,-236 L25,-205 Z" fill="none" stroke="#555" stroke-width="1.15"/>
<path d="M-24,-220 L24,-220 M-23,-236 L23,-236 M-19,-250 L19,-250 M-13,-262 L13,-262 M-12,-205 L-11,-266 M0,-205 L0,-270 M12,-205 L11,-266" fill="none" stroke="#fff" stroke-width="2.40"/><path d="M-24,-220 L24,-220 M-23,-236 L23,-236 M-19,-250 L19,-250 M-13,-262 L13,-262 M-12,-205 L-11,-266 M0,-205 L0,-270 M12,-205 L11,-266" fill="none" stroke="#555" stroke-width="1.3"/>
<rect x="-27" y="-199" width="54" height="16" fill="#cfcfcf" stroke="none" stroke-width="1"/><rect x="-27" y="-199" width="54" height="16" fill="none" stroke="#fff" stroke-width="2.10"/><rect x="-27" y="-199" width="54" height="16" fill="none" stroke="#1e1e1e" stroke-width="1"/>
<path d="M-21,-150 C-21,-164 -12,-172 0,-172 C12,-172 21,-164 21,-150 Z" fill="#e6e6e6" stroke="none" stroke-width="1.6"/><path d="M-21,-150 C-21,-164 -12,-172 0,-172 C12,-172 21,-164 21,-150 Z" fill="none" stroke="#fff" stroke-width="2.70"/><path d="M-21,-150 C-21,-164 -12,-172 0,-172 C12,-172 21,-164 21,-150 Z" fill="none" stroke="#555" stroke-width="1.6"/>
<path d="M-13,-156 L-13,-128 M-5,-160 L-5,-124 M5,-160 L5,-124 M13,-156 L13,-128" stroke="#fff" stroke-width="3.10" fill="none"/><path d="M-13,-156 L-13,-128 M-5,-160 L-5,-124 M5,-160 L5,-124 M13,-156 L13,-128" stroke="#444" stroke-width="2"/>
<path d="M-18,-150 L-18,-130 M18,-150 L18,-130 M-18,-130 L18,-130" fill="none" stroke="#fff" stroke-width="2.10"/><path d="M-18,-150 L-18,-130 M18,-150 L18,-130 M-18,-130 L18,-130" fill="none" stroke="#1e1e1e" stroke-width="1"/>
<circle cx="0" cy="-69" r="18.5" fill="#e4e4e4" stroke="none" stroke-width="1.8"/><circle cx="0" cy="-69" r="18.5" fill="none" stroke="#fff" stroke-width="2.90"/><circle cx="0" cy="-69" r="18.5" fill="none" stroke="#555" stroke-width="1.8"/>
<path d="M-18,-69 L18,-69 M0,-87 L0,-51 M-9,-85 L-9,-55 M9,-85 L9,-55" fill="none" stroke="#fff" stroke-width="2.25"/><path d="M-18,-69 L18,-69 M0,-87 L0,-51 M-9,-85 L-9,-55 M9,-85 L9,-55" fill="none" stroke="#555" stroke-width="1.15"/>
<path d="M-10,-64 L-11,-27 M10,-66 L8,-28" stroke="#fff" stroke-width="3.90" fill="none"/><path d="M-10,-64 L-11,-27 M10,-66 L8,-28" stroke="#333" stroke-width="2.8"/>
<path d="M-3,-40 L5,-40 M-3,-37.5 L5,-37.5 M-3,-35 L5,-35" stroke="#444" stroke-width="1" class="nohalo"/>
<g fill="none" stroke="#1e1e1e" stroke-width="1.05"><ellipse cx="-7" cy="1" rx="4.5" ry="12"/><ellipse cx="9" cy="-3" rx="4.5" ry="12"/></g>
<path d="M-18,113 L-15,110 L-12,113 M10,107 L13,110 L10,113 M-18,135 L-15,138 L-18,141 M8,135 L11,138 L14,135" fill="none" stroke="#fff" stroke-width="2.10"/><path d="M-18,113 L-15,110 L-12,113 M10,107 L13,110 L10,113 M-18,135 L-15,138 L-18,141 M8,135 L11,138 L14,135" fill="none" stroke="#777" stroke-width="1"/>
<path d="M-19,271 C-14,290 4,315 11,340 M19,271 C14,290 -4,315 -11,340" fill="none" stroke="#fff" stroke-width="2.50"/><path d="M-19,271 C-14,290 4,315 11,340 M19,271 C14,290 -4,315 -11,340" fill="none" stroke="#555" stroke-width="1.4"/>
<path d="M-8,333 L8,333 L13,344 L12,369 L-12,369 L-13,344 Z" fill="#ececec" stroke="none" stroke-width="1.3"/><path d="M-8,333 L8,333 L13,344 L12,369 L-12,369 L-13,344 Z" fill="none" stroke="#fff" stroke-width="2.40"/><path d="M-8,333 L8,333 L13,344 L12,369 L-12,369 L-13,344 Z" fill="none" stroke="#555" stroke-width="1.3"/>
<path d="M-13,358 L13,358 M-8,358 L-9,369 M8,358 L9,369 M-6,341 L6,341 L8,356 L-8,356 Z" fill="none" stroke="#fff" stroke-width="2.00"/><path d="M-13,358 L13,358 M-8,358 L-9,369 M8,358 L9,369 M-6,341 L6,341 L8,356 L-8,356 Z" fill="none" stroke="#777" stroke-width="0.9"/>
<path d="M96.0,-115.0 L136.0,-115.0 L140.0,-113.5 L141.5,-110.0 L143.0,-90.0 L143.0,-66.0 L139.0,-56.0 L133.0,-49.0 L129.0,-39.0 L128.0,0.0 L127.0,40.0 L125.0,80.0 L119.0,123.0 L111.0,82.0 L101.0,40.0 L95.0,0.0 L92.0,-49.0 L90.0,-60.0 L90.5,-104.0 L92.0,-112.0 Z" fill="#d9d9d9" stroke="none" stroke-width="1.15"/><path d="M96.0,-115.0 L136.0,-115.0 L140.0,-113.5 L141.5,-110.0 L143.0,-90.0 L143.0,-66.0 L139.0,-56.0 L133.0,-49.0 L129.0,-39.0 L128.0,0.0 L127.0,40.0 L125.0,80.0 L119.0,123.0 L111.0,82.0 L101.0,40.0 L95.0,0.0 L92.0,-49.0 L90.0,-60.0 L90.5,-104.0 L92.0,-112.0 Z" fill="none" stroke="#fff" stroke-width="2.25"/><path d="M96.0,-115.0 L136.0,-115.0 L140.0,-113.5 L141.5,-110.0 L143.0,-90.0 L143.0,-66.0 L139.0,-56.0 L133.0,-49.0 L129.0,-39.0 L128.0,0.0 L127.0,40.0 L125.0,80.0 L119.0,123.0 L111.0,82.0 L101.0,40.0 L95.0,0.0 L92.0,-49.0 L90.0,-60.0 L90.5,-104.0 L92.0,-112.0 Z" fill="none" stroke="#1e1e1e" stroke-width="1.15"/>
<path d="M150,-53.5 C143,-54 138,-52 133,-49 M87,-57 C89,-55 91,-52 92,-49" fill="none" stroke="#fff" stroke-width="2.10"/><path d="M150,-53.5 C143,-54 138,-52 133,-49 M87,-57 C89,-55 91,-52 92,-49" fill="none" stroke="#1e1e1e" stroke-width="1"/>
<rect x="111" y="-33" width="16" height="14" rx="3" fill="none" stroke="#fff" stroke-width="2.10"/><rect x="111" y="-33" width="16" height="14" rx="3" fill="none" stroke="#1e1e1e" stroke-width="1"/>
<path d="M121,-62 L120,-42 M114,-1 L112,22 L116,90 M143,-62 C125,-58 110,-50 100,-40" fill="none" stroke="#fff" stroke-width="2.10"/><path d="M121,-62 L120,-42 M114,-1 L112,22 L116,90 M143,-62 C125,-58 110,-50 100,-40" fill="none" stroke="#1e1e1e" stroke-width="1"/>
<path d="M-96.0,-115.0 L-136.0,-115.0 L-140.0,-113.5 L-141.5,-110.0 L-143.0,-90.0 L-143.0,-66.0 L-139.0,-56.0 L-133.0,-49.0 L-129.0,-39.0 L-128.0,0.0 L-127.0,40.0 L-125.0,80.0 L-119.0,123.0 L-111.0,82.0 L-101.0,40.0 L-95.0,0.0 L-92.0,-49.0 L-90.0,-60.0 L-90.5,-104.0 L-92.0,-112.0 Z" fill="#d9d9d9" stroke="none" stroke-width="1.15"/><path d="M-96.0,-115.0 L-136.0,-115.0 L-140.0,-113.5 L-141.5,-110.0 L-143.0,-90.0 L-143.0,-66.0 L-139.0,-56.0 L-133.0,-49.0 L-129.0,-39.0 L-128.0,0.0 L-127.0,40.0 L-125.0,80.0 L-119.0,123.0 L-111.0,82.0 L-101.0,40.0 L-95.0,0.0 L-92.0,-49.0 L-90.0,-60.0 L-90.5,-104.0 L-92.0,-112.0 Z" fill="none" stroke="#fff" stroke-width="2.25"/><path d="M-96.0,-115.0 L-136.0,-115.0 L-140.0,-113.5 L-141.5,-110.0 L-143.0,-90.0 L-143.0,-66.0 L-139.0,-56.0 L-133.0,-49.0 L-129.0,-39.0 L-128.0,0.0 L-127.0,40.0 L-125.0,80.0 L-119.0,123.0 L-111.0,82.0 L-101.0,40.0 L-95.0,0.0 L-92.0,-49.0 L-90.0,-60.0 L-90.5,-104.0 L-92.0,-112.0 Z" fill="none" stroke="#1e1e1e" stroke-width="1.15"/>
<path d="M-150,-53.5 C-143,-54 -138,-52 -133,-49 M-87,-57 C-89,-55 -91,-52 -92,-49" fill="none" stroke="#fff" stroke-width="2.10"/><path d="M-150,-53.5 C-143,-54 -138,-52 -133,-49 M-87,-57 C-89,-55 -91,-52 -92,-49" fill="none" stroke="#1e1e1e" stroke-width="1"/>
<rect x="-127" y="-33" width="16" height="14" rx="3" fill="none" stroke="#fff" stroke-width="2.10"/><rect x="-127" y="-33" width="16" height="14" rx="3" fill="none" stroke="#1e1e1e" stroke-width="1"/>
<path d="M-121,-62 L-120,-42 M-114,-1 L-112,22 L-116,90 M-143,-62 C-125,-58 -110,-50 -100,-40" fill="none" stroke="#fff" stroke-width="2.10"/><path d="M-121,-62 L-120,-42 M-114,-1 L-112,22 L-116,90 M-143,-62 C-125,-58 -110,-50 -100,-40" fill="none" stroke="#1e1e1e" stroke-width="1"/>
<path d="M92.0,-106.3 L141.5,-106.3 M107.0,-105.5 L107.0,-78.0 M132.0,-105.5 L132.0,-78.0 M88.5,-77.5 L143.0,-77.5 M88.5,-67.0 L143.0,-67.0 M88.5,-64.0 L143.0,-64.0 M95.0,-77.5 L95.0,-67.0 M103.0,-77.5 L103.0,-67.0 M111.0,-77.5 L111.0,-67.0 M119.0,-77.5 L119.0,-67.0 M127.0,-77.5 L127.0,-67.0 M135.0,-77.5 L135.0,-67.0 M-92.0,-106.3 L-141.5,-106.3 M-107.0,-105.5 L-107.0,-78.0 M-132.0,-105.5 L-132.0,-78.0 M-88.5,-77.5 L-143.0,-77.5 M-88.5,-67.0 L-143.0,-67.0 M-88.5,-64.0 L-143.0,-64.0 M-95.0,-77.5 L-95.0,-67.0 M-103.0,-77.5 L-103.0,-67.0 M-111.0,-77.5 L-111.0,-67.0 M-119.0,-77.5 L-119.0,-67.0 M-127.0,-77.5 L-127.0,-67.0 M-135.0,-77.5 L-135.0,-67.0" fill="none" stroke="#fff" stroke-width="2.10"/><path d="M92.0,-106.3 L141.5,-106.3 M107.0,-105.5 L107.0,-78.0 M132.0,-105.5 L132.0,-78.0 M88.5,-77.5 L143.0,-77.5 M88.5,-67.0 L143.0,-67.0 M88.5,-64.0 L143.0,-64.0 M95.0,-77.5 L95.0,-67.0 M103.0,-77.5 L103.0,-67.0 M111.0,-77.5 L111.0,-67.0 M119.0,-77.5 L119.0,-67.0 M127.0,-77.5 L127.0,-67.0 M135.0,-77.5 L135.0,-67.0 M-92.0,-106.3 L-141.5,-106.3 M-107.0,-105.5 L-107.0,-78.0 M-132.0,-105.5 L-132.0,-78.0 M-88.5,-77.5 L-143.0,-77.5 M-88.5,-67.0 L-143.0,-67.0 M-88.5,-64.0 L-143.0,-64.0 M-95.0,-77.5 L-95.0,-67.0 M-103.0,-77.5 L-103.0,-67.0 M-111.0,-77.5 L-111.0,-67.0 M-119.0,-77.5 L-119.0,-67.0 M-127.0,-77.5 L-127.0,-67.0 M-135.0,-77.5 L-135.0,-67.0" fill="none" stroke="#1e1e1e" stroke-width="1"/>
<path d="M119,-77 C119,-87 120,-94 121.5,-97 C123,-93 123.7,-88 124,-85 C124.5,-90 125.5,-94 127,-96 C128.5,-91 129,-85 129,-77  M121,-80 C121,-86 121.5,-90 122,-92 M125.5,-80 C125.5,-86 126.5,-90 127,-91  M93,-77 C93,-87 94,-94 95.5,-97 C97,-93 97.7,-88 98,-85 C98.5,-90 99.5,-94 101,-96 C102.5,-91 103,-85 103,-77  M95,-80 C95,-86 95.5,-90 96,-92 M99.5,-80 C99.5,-86 100.5,-90 101,-91  M-119,-77 C-119,-87 -120,-94 -121.5,-97 C-123,-93 -123.7,-88 -124,-85 C-124.5,-90 -125.5,-94 -127,-96 C-128.5,-91 -129,-85 -129,-77  M-121,-80 C-121,-86 -121.5,-90 -122,-92 M-125.5,-80 C-125.5,-86 -126.5,-90 -127,-91  M-93,-77 C-93,-87 -94,-94 -95.5,-97 C-97,-93 -97.7,-88 -98,-85 C-98.5,-90 -99.5,-94 -101,-96 C-102.5,-91 -103,-85 -103,-77  M-95,-80 C-95,-86 -95.5,-90 -96,-92 M-99.5,-80 C-99.5,-86 -100.5,-90 -101,-91 " fill="#e4e4e4" stroke="none" stroke-width="1"/><path d="M119,-77 C119,-87 120,-94 121.5,-97 C123,-93 123.7,-88 124,-85 C124.5,-90 125.5,-94 127,-96 C128.5,-91 129,-85 129,-77  M121,-80 C121,-86 121.5,-90 122,-92 M125.5,-80 C125.5,-86 126.5,-90 127,-91  M93,-77 C93,-87 94,-94 95.5,-97 C97,-93 97.7,-88 98,-85 C98.5,-90 99.5,-94 101,-96 C102.5,-91 103,-85 103,-77  M95,-80 C95,-86 95.5,-90 96,-92 M99.5,-80 C99.5,-86 100.5,-90 101,-91  M-119,-77 C-119,-87 -120,-94 -121.5,-97 C-123,-93 -123.7,-88 -124,-85 C-124.5,-90 -125.5,-94 -127,-96 C-128.5,-91 -129,-85 -129,-77  M-121,-80 C-121,-86 -121.5,-90 -122,-92 M-125.5,-80 C-125.5,-86 -126.5,-90 -127,-91  M-93,-77 C-93,-87 -94,-94 -95.5,-97 C-97,-93 -97.7,-88 -98,-85 C-98.5,-90 -99.5,-94 -101,-96 C-102.5,-91 -103,-85 -103,-77  M-95,-80 C-95,-86 -95.5,-90 -96,-92 M-99.5,-80 C-99.5,-86 -100.5,-90 -101,-91 " fill="none" stroke="#fff" stroke-width="2.10"/><path d="M119,-77 C119,-87 120,-94 121.5,-97 C123,-93 123.7,-88 124,-85 C124.5,-90 125.5,-94 127,-96 C128.5,-91 129,-85 129,-77  M121,-80 C121,-86 121.5,-90 122,-92 M125.5,-80 C125.5,-86 126.5,-90 127,-91  M93,-77 C93,-87 94,-94 95.5,-97 C97,-93 97.7,-88 98,-85 C98.5,-90 99.5,-94 101,-96 C102.5,-91 103,-85 103,-77  M95,-80 C95,-86 95.5,-90 96,-92 M99.5,-80 C99.5,-86 100.5,-90 101,-91  M-119,-77 C-119,-87 -120,-94 -121.5,-97 C-123,-93 -123.7,-88 -124,-85 C-124.5,-90 -125.5,-94 -127,-96 C-128.5,-91 -129,-85 -129,-77  M-121,-80 C-121,-86 -121.5,-90 -122,-92 M-125.5,-80 C-125.5,-86 -126.5,-90 -127,-91  M-93,-77 C-93,-87 -94,-94 -95.5,-97 C-97,-93 -97.7,-88 -98,-85 C-98.5,-90 -99.5,-94 -101,-96 C-102.5,-91 -103,-85 -103,-77  M-95,-80 C-95,-86 -95.5,-90 -96,-92 M-99.5,-80 C-99.5,-86 -100.5,-90 -101,-91 " fill="none" stroke="#1e1e1e" stroke-width="1"/>
<path d="M135,283 C139.5,283 140,291 139.5,300 L137,361 L132.5,300 C132,291 131.5,283 135,283 Z" fill="#d9d9d9" stroke="none" stroke-width="1"/><path d="M135,283 C139.5,283 140,291 139.5,300 L137,361 L132.5,300 C132,291 131.5,283 135,283 Z" fill="none" stroke="#fff" stroke-width="2.10"/><path d="M135,283 C139.5,283 140,291 139.5,300 L137,361 L132.5,300 C132,291 131.5,283 135,283 Z" fill="none" stroke="#1e1e1e" stroke-width="1"/>
<path d="M133,300 L139.5,300" stroke="#fff" stroke-width="1.90" fill="none"/><path d="M133,300 L139.5,300" stroke="#1e1e1e" stroke-width="0.8"/>
<path d="M-135,283 C-139.5,283 -140,291 -139.5,300 L-137,361 L-132.5,300 C-132,291 -131.5,283 -135,283 Z" fill="#d9d9d9" stroke="none" stroke-width="1"/><path d="M-135,283 C-139.5,283 -140,291 -139.5,300 L-137,361 L-132.5,300 C-132,291 -131.5,283 -135,283 Z" fill="none" stroke="#fff" stroke-width="2.10"/><path d="M-135,283 C-139.5,283 -140,291 -139.5,300 L-137,361 L-132.5,300 C-132,291 -131.5,283 -135,283 Z" fill="none" stroke="#1e1e1e" stroke-width="1"/>
<path d="M-133,300 L-139.5,300" stroke="#fff" stroke-width="1.90" fill="none"/><path d="M-133,300 L-139.5,300" stroke="#1e1e1e" stroke-width="0.8"/>
<rect x="115.5" y="-137" width="7" height="13" rx="3.5" fill="#e4e4e4" stroke="none" stroke-width="1"/><rect x="115.5" y="-137" width="7" height="13" rx="3.5" fill="none" stroke="#fff" stroke-width="2.10"/><rect x="115.5" y="-137" width="7" height="13" rx="3.5" fill="none" stroke="#1e1e1e" stroke-width="1"/>
<rect x="112" y="-125" width="14" height="9" rx="3" fill="#3a3a3a"/>
<circle cx="119" cy="-120.5" r="2" fill="#666"/>
<rect x="-122.5" y="-137" width="7" height="13" rx="3.5" fill="#e4e4e4" stroke="none" stroke-width="1"/><rect x="-122.5" y="-137" width="7" height="13" rx="3.5" fill="none" stroke="#fff" stroke-width="2.10"/><rect x="-122.5" y="-137" width="7" height="13" rx="3.5" fill="none" stroke="#1e1e1e" stroke-width="1"/>
<rect x="-126" y="-125" width="14" height="9" rx="3" fill="#3a3a3a"/>
<circle cx="-119" cy="-120.5" r="2" fill="#666"/>
<path d="M-6,389 L-6,414 M2.5,389 L2.5,414" stroke="#fff" stroke-width="2.90" fill="none"/><path d="M-6,389 L-6,414 M2.5,389 L2.5,414" stroke="#222" stroke-width="1.8"/>
<path d="M-0.5,-268 L-0.5,-292 M15.5,-258 L15.5,-272" stroke="#fff" stroke-width="2.90" fill="none"/><path d="M-0.5,-268 L-0.5,-292 M15.5,-258 L15.5,-272" stroke="#222" stroke-width="1.8"/></g>
</defs>
<rect width="1500" height="1061" fill="#fff"/>
<path d="M747.5,0 L747.5,1061" stroke="#b8b8b8" stroke-width="1.15" stroke-dasharray="2,2"/>
<text class="title" x="87" y="41.3" font-size="22.4" textLength="573" lengthAdjust="spacingAndGlyphs" fill="#111" stroke="#111" stroke-width="0.8">Stencils application scheme / Схема нанесення технічних написів</text>
<g><use href="#sideA"/><circle cx="248" cy="178" r="10" fill="none" stroke="#fff" stroke-width="2.10"/><circle cx="248" cy="178" r="10" fill="none" stroke="#1e1e1e" stroke-width="1"/>
<path d="M297,198 L297,158 C297,155 300,154 303,154 L320,154 C324,154 326,156 326,159 L326,175" fill="none" stroke="#fff" stroke-width="2.40"/><path d="M297,198 L297,158 C297,155 300,154 303,154 L320,154 C324,154 326,156 326,159 L326,175" fill="none" stroke="#1e1e1e" stroke-width="1.3"/>
<rect x="299" y="158" width="24" height="22" fill="#ececec" stroke="none" stroke-width="0.8"/><rect x="299" y="158" width="24" height="22" fill="none" stroke="#fff" stroke-width="1.90"/><rect x="299" y="158" width="24" height="22" fill="none" stroke="#1e1e1e" stroke-width="0.8"/>
<path d="M279,179 L303,179" stroke="#fff" stroke-width="3.10" fill="none"/><path d="M279,179 L303,179" stroke="#333" stroke-width="2"/><use href="#sideB"/></g>
<g transform="translate(1494,0) scale(-1,1)"><use href="#sideA"/><path d="M276.5,196 L276.5,163 C276.5,160 279,158.8 282,158.8 L302,158.8 C305,158.8 307.5,160 307.5,163 L307.5,193" fill="none" stroke="#fff" stroke-width="2.40"/><path d="M276.5,196 L276.5,163 C276.5,160 279,158.8 282,158.8 L302,158.8 C305,158.8 307.5,160 307.5,163 L307.5,193" fill="none" stroke="#1e1e1e" stroke-width="1.3"/>
<rect x="278.5" y="165" width="27.5" height="20" fill="#ececec" stroke="none" stroke-width="0.8"/><rect x="278.5" y="165" width="27.5" height="20" fill="none" stroke="#fff" stroke-width="1.90"/><rect x="278.5" y="165" width="27.5" height="20" fill="none" stroke="#1e1e1e" stroke-width="0.8"/>
<path d="M259,179.5 L285,179.5" stroke="#fff" stroke-width="3.10" fill="none"/><path d="M259,179.5 L285,179.5" stroke="#333" stroke-width="2"/>
<path d="M276.5,190 C282,196 300,196 307.5,190" fill="none" stroke="#fff" stroke-width="2.10"/><path d="M276.5,190 C282,196 300,196 307.5,190" fill="none" stroke="#1e1e1e" stroke-width="1"/>
<ellipse cx="314" cy="175" rx="2" ry="1.5" fill="none" stroke="#fff" stroke-width="1.90"/><ellipse cx="314" cy="175" rx="2" ry="1.5" fill="none" stroke="#1e1e1e" stroke-width="0.8"/><use href="#sideB"/><circle cx="631.1" cy="175.6" r="3.3" fill="#eee" stroke="#333" stroke-width="1.3"/><circle cx="614.1" cy="169.3" r="2.6" fill="#555" stroke="#333" stroke-width="1"/><path d="M614,166 L601,166 M614,172.5 L601,172.5" stroke="#666" stroke-width="1.2"/></g>
<g transform="translate(464.5,371.5)"><g transform="rotate(0)"><path d="M-1.6,-7 C-3.5,-20 -5.8,-40 -5.7,-55 C-5.6,-68 -3,-76.3 0,-76.3 C3,-76.3 5.6,-68 5.7,-55 C5.8,-40 3.5,-20 1.6,-7 Z" fill="#3b3b3b"/><path d="M-1.6,-20 L1.6,-20 M-1.6,-22.5 L1.6,-22.5 M-1.6,-25 L1.6,-25 M-1.2,-27.5 L1.2,-27.5" stroke="#ddd" stroke-width="1.1"/><ellipse cx="0" cy="-37" rx="1.7" ry="2.6" fill="#ddd"/><path d="M0,-40.5 L0,-33.5" stroke="#3b3b3b" stroke-width="0.6"/></g>
<g transform="rotate(120)"><path d="M-1.6,-7 C-3.5,-20 -5.8,-40 -5.7,-55 C-5.6,-68 -3,-76.3 0,-76.3 C3,-76.3 5.6,-68 5.7,-55 C5.8,-40 3.5,-20 1.6,-7 Z" fill="#3b3b3b"/><path d="M-1.6,-20 L1.6,-20 M-1.6,-22.5 L1.6,-22.5 M-1.6,-25 L1.6,-25 M-1.2,-27.5 L1.2,-27.5" stroke="#ddd" stroke-width="1.1"/><ellipse cx="0" cy="-37" rx="1.7" ry="2.6" fill="#ddd"/><path d="M0,-40.5 L0,-33.5" stroke="#3b3b3b" stroke-width="0.6"/></g>
<g transform="rotate(240)"><path d="M-1.6,-7 C-3.5,-20 -5.8,-40 -5.7,-55 C-5.6,-68 -3,-76.3 0,-76.3 C3,-76.3 5.6,-68 5.7,-55 C5.8,-40 3.5,-20 1.6,-7 Z" fill="#3b3b3b"/><path d="M-1.6,-20 L1.6,-20 M-1.6,-22.5 L1.6,-22.5 M-1.6,-25 L1.6,-25 M-1.2,-27.5 L1.2,-27.5" stroke="#ddd" stroke-width="1.1"/><ellipse cx="0" cy="-37" rx="1.7" ry="2.6" fill="#ddd"/><path d="M0,-40.5 L0,-33.5" stroke="#3b3b3b" stroke-width="0.6"/></g>
<circle r="5.8" fill="#fff" stroke="#333" stroke-width="1.05"/><circle r="3.2" fill="#cfcfcf" stroke="#777" stroke-width="0.5"/></g>
<use href="#plan" transform="translate(400,644) rotate(45)"/>
<use href="#planB" transform="translate(1148,617) rotate(45)"/>
<path d="M177.5,133.5 L140,155 M272.5,129 L296,155 M151,231 L132.5,204 M245,241 L295,197.5 M272.5,241 L308.5,197.5 M297.5,241 L313.5,218.5 M341,250 L330,207.5 M368.5,250 L411,207.5 M396,250 L407.5,223.5 M426,250 L418.5,216 M451,250 L437.5,212.5 M474,250 L455,197.5 M497.5,250 L472.5,213.5 M991,118.5 L977.5,166 M870,146.5 L878.5,168.5 M883.5,235 L898.5,220 M998.5,248.5 L1022.5,215 M1022.5,248.5 L1038.5,196.5 M1045,248.5 L1057.5,208.5 M1068.5,248.5 L1073.5,216 M1096,248.5 L1086,225 M1125,248.5 L1083.5,207.5 M1155,248.5 L1163.5,204 M1197.5,240 L1180,216 M1225,240 L1188.5,198.5 M1253.5,240 L1217.5,200 M1237.5,130 L1215,158.5 M1315,135 L1352.5,153.5 M1341,230 L1361,206 M432.5,383.5 L423.8,346.7 L460,336 M486.8,378.5 L512.9,346 L468.4,347.4 M256,426.5 L236,464 M252,434 L240,458 M284,449 L253,467 M320.5,457.5 L306,490 M302.5,466.5 L282,484 M302.5,466.5 L272,496 M302.5,466.5 L293,496 M302.5,466.5 L299,500 M302.5,466.5 L306,499 M333,466 L302,483 M333,466 L312,498 M351,476.5 L332,498 M330,488.5 L320,500 M330,488.5 L316,503 M161.8,504 L202,482.4 M197.2,547.8 L258.4,529.8 M220.6,574.8 L274,547.2 M601,487 L572.5,476.5 M580,533.8 L547.5,530 M563.3,702.6 L534,727.5 M562.8,716.8 L527,736.6 M562.8,716.8 L518,744.5 M582,719 L547.5,743.3 M579.2,732 L540.7,743.3 M579.2,732 L548.6,746.7 M581.4,743.9 L527.7,754.1 M581.4,743.9 L539.6,763.7 M581.4,743.9 L549.8,773.9 M581.4,743.9 L563.3,763.7 M581.4,743.9 L543,741.7 M594.5,760.3 L578,793 M619.3,790.9 L597,805 M469.7,825.3 L498,771.9 M488.8,839.2 L515.9,785.7 M544.9,883.4 L565.3,840.5 M1063.6,438.9 L1047.5,522 M1158.8,516.1 L1151.2,584 M1186,511.4 L1158.8,589.7 M1234.2,588.7 L1188.9,591.5 M1247.3,608.5 L1179.5,614.2 M1043.9,641.3 L1129.5,584.9 M1043.9,641.3 L1112.2,601.2 M1043.9,641.3 L1140.4,614.2 M1024.4,669.4 L1057,681.4 M1062.4,769.1 L1059.1,723.6 M1129.5,736.6 L1162,651 M1129.5,736.6 L1179.4,634.8 M1326.7,694.7 L1245.3,712" fill="none" stroke="#151515" stroke-width="1.05"/>
<g class="lbl"><text x="179" y="137.5" text-anchor="start">100</text>
<text x="263" y="127.5" text-anchor="start">108</text>
<text x="148" y="243.5" text-anchor="start">126a</text>
<text x="235" y="250.8" text-anchor="start">109</text>
<text x="262.5" y="250.8" text-anchor="start">127</text>
<text x="288.5" y="250.8" text-anchor="start">113</text>
<text x="332.5" y="258.8" text-anchor="start">124</text>
<text x="360" y="258.8" text-anchor="start">120</text>
<text x="387.5" y="258.8" text-anchor="start">116</text>
<text x="417.5" y="258.8" text-anchor="start">121</text>
<text x="444" y="258.8" text-anchor="start">102</text>
<text x="467.5" y="258.8" text-anchor="start">118</text>
<text x="490" y="258.8" text-anchor="start">131</text>
<text x="971" y="116.3" text-anchor="start">112a-112e</text>
<text x="862.5" y="145" text-anchor="start">110</text>
<text x="867.5" y="245" text-anchor="start">125</text>
<text x="990" y="258.8" text-anchor="start">131</text>
<text x="1015" y="258.8" text-anchor="start">118</text>
<text x="1036.5" y="258.8" text-anchor="start">102</text>
<text x="1060" y="258.8" text-anchor="start">121</text>
<text x="1089" y="258.8" text-anchor="start">116</text>
<text x="1120" y="258.8" text-anchor="start">120</text>
<text x="1147.5" y="258.8" text-anchor="start">124</text>
<text x="1190" y="250" text-anchor="start">113</text>
<text x="1217.5" y="250" text-anchor="start">127</text>
<text x="1251" y="250" text-anchor="start">109</text>
<text x="1231" y="128.5" text-anchor="start">108</text>
<text x="1297.5" y="137.5" text-anchor="start">100</text>
<text x="1324" y="241.5" text-anchor="start">126a</text>
<text x="402.5" y="351.3" text-anchor="start">132</text>
<text x="518" y="351" text-anchor="start">101</text>
<text x="246" y="424.2" text-anchor="start">126b</text>
<text x="285" y="450.2" text-anchor="start">133</text>
<text x="316" y="454.6" text-anchor="start">115</text>
<text x="295.5" y="464.2" text-anchor="start">122</text>
<text x="328.5" y="464.2" text-anchor="start">114</text>
<text x="345.5" y="474.2" text-anchor="start">123</text>
<text x="325" y="486.2" text-anchor="start">117</text>
<text x="145" y="510.6" text-anchor="start">119</text>
<text x="178" y="552.6" text-anchor="start">130</text>
<text x="200.8" y="580.2" text-anchor="start">128</text>
<text x="602.5" y="492.2" text-anchor="start">126b</text>
<text x="583.5" y="537.6" text-anchor="start">104</text>
<text x="565" y="705.5" text-anchor="start">123</text>
<text x="564" y="716.2" text-anchor="start">117</text>
<text x="583" y="719.6" text-anchor="start">115</text>
<text x="579" y="732.6" text-anchor="start">114</text>
<text x="582.6" y="746.7" text-anchor="start">122</text>
<text x="588" y="759.8" text-anchor="start">133</text>
<text x="620.5" y="793.7" text-anchor="start">126b</text>
<text x="459" y="836" text-anchor="start">128</text>
<text x="479" y="849.7" text-anchor="start">130</text>
<text x="534.3" y="893.5" text-anchor="start">119</text>
<text x="1043.8" y="437" text-anchor="start">105+106*</text>
<text x="1152.2" y="514" text-anchor="start">111</text>
<text x="1178.5" y="509.5" text-anchor="start">129</text>
<text x="1236" y="592.5" text-anchor="start">103</text>
<text x="1249.2" y="612.3" text-anchor="start">111</text>
<text x="995.2" y="647.8" text-anchor="start">105+106*</text>
<text x="999.5" y="671.6" text-anchor="start">107a</text>
<text x="1052.6" y="780" text-anchor="start">107b</text>
<text x="1103.5" y="747.5" text-anchor="start">105+106*</text>
<text x="1328" y="698.7" text-anchor="start">105+106*</text></g>
<text x="88.7" y="160.8" font-family="Liberation Sans, sans-serif" font-size="12.8" fill="#858585" textLength="49.8" lengthAdjust="spacing">123456</text>
<text x="1353.8" y="160.8" font-family="Liberation Sans, sans-serif" font-size="12.8" fill="#858585" textLength="49.8" lengthAdjust="spacing">123456</text>
<g fill="#888"><circle cx="1046.6" cy="527.4" r="3.3"/><circle cx="1130.6" cy="583.8" r="3.3"/><circle cx="1113.3" cy="600.1" r="3.3"/><circle cx="1163.1" cy="648.9" r="3.3"/><circle cx="1179.4" cy="632.6" r="3.3"/><circle cx="1238" cy="718.7" r="3.3"/><circle cx="1153" cy="612" r="3"/></g>
<text class="title" x="1228.5" y="1010.2" font-size="13" fill="#111">*</text>
<text class="title" x="1240.6" y="1010.2" font-size="13.6" textLength="227.7" lengthAdjust="spacingAndGlyphs" fill="#111" stroke="#111" stroke-width="0.55">Можливі варіанти 105+106 або тільки 106</text>
<text class="title" x="1240.6" y="1027.8" font-size="13.6" textLength="207.9" lengthAdjust="spacingAndGlyphs" fill="#111" stroke="#111" stroke-width="0.55">Possible optons: 105+106 or solely 106</text>
</svg>
</body></html>
